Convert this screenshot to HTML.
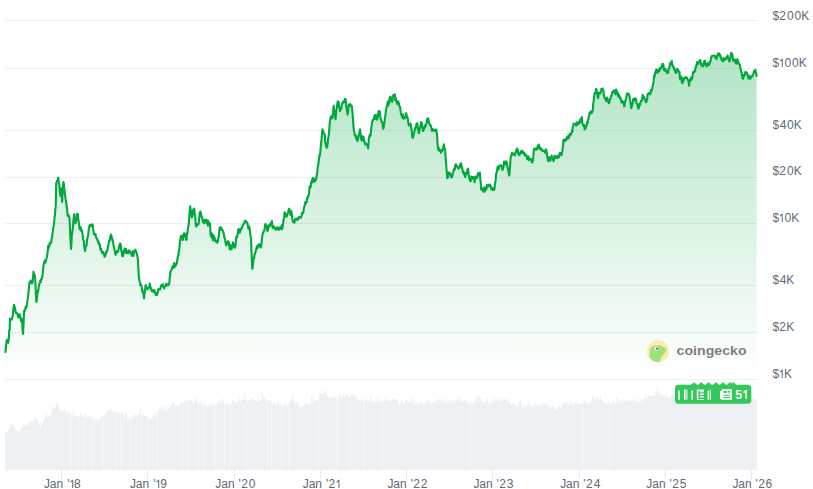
<!DOCTYPE html>
<html><head><meta charset="utf-8"><style>
html,body{margin:0;padding:0;background:#ffffff;width:813px;height:489px;overflow:hidden;font-family:"Liberation Sans",sans-serif;}
svg{display:block;}
</style></head><body>
<svg width="813" height="489" viewBox="0 0 813 489"><defs><linearGradient id="fg" x1="0" y1="0" x2="0" y2="1"><stop offset="0" stop-color="#00a83e" stop-opacity="0.3"/><stop offset="1" stop-color="#00a83e" stop-opacity="0"/></linearGradient></defs><rect x="5" y="20" width="752" height="1" fill="#eceff3"/><rect x="5" y="68" width="752" height="1" fill="#eceff3"/><rect x="5" y="130" width="752" height="1" fill="#eceff3"/><rect x="5" y="177" width="752" height="1" fill="#eceff3"/><rect x="5" y="223" width="752" height="1" fill="#eceff3"/><rect x="5" y="285" width="752" height="1" fill="#eceff3"/><rect x="5" y="332" width="752" height="1" fill="#eceff3"/><rect x="5" y="379" width="752" height="1" fill="#eceff3"/><clipPath id="vc"><path d="M5,470 L5.0,431.9 L6.0,431.9 L6.0,431.1 L7.0,431.1 L7.0,433.3 L8.0,433.3 L8.0,429.0 L9.0,429.0 L9.0,428.5 L10.0,428.5 L10.0,424.9 L11.0,424.9 L11.0,424.4 L12.0,424.4 L12.0,424.2 L13.0,424.2 L13.0,426.8 L14.0,426.8 L14.0,427.5 L15.0,427.5 L15.0,427.8 L16.0,427.8 L16.0,430.9 L17.0,430.9 L17.0,430.9 L18.0,430.9 L18.0,431.2 L19.0,431.2 L19.0,432.2 L20.0,432.2 L20.0,428.2 L21.0,428.2 L21.0,428.4 L22.0,428.4 L22.0,427.5 L23.0,427.5 L23.0,422.6 L24.0,422.6 L24.0,425.6 L25.0,425.6 L25.0,424.7 L26.0,424.7 L26.0,424.7 L27.0,424.7 L27.0,423.0 L28.0,423.0 L28.0,424.2 L29.0,424.2 L29.0,422.1 L30.0,422.1 L30.0,422.3 L31.0,422.3 L31.0,419.9 L32.0,419.9 L32.0,421.9 L33.0,421.9 L33.0,421.3 L34.0,421.3 L34.0,418.0 L35.0,418.0 L35.0,417.5 L36.0,417.5 L36.0,419.4 L37.0,419.4 L37.0,419.8 L38.0,419.8 L38.0,422.6 L39.0,422.6 L39.0,424.6 L40.0,424.6 L40.0,427.7 L41.0,427.7 L41.0,423.1 L42.0,423.1 L42.0,424.1 L43.0,424.1 L43.0,421.2 L44.0,421.2 L44.0,420.3 L45.0,420.3 L45.0,414.6 L46.0,414.6 L46.0,412.6 L47.0,412.6 L47.0,417.3 L48.0,417.3 L48.0,417.0 L49.0,417.0 L49.0,415.2 L50.0,415.2 L50.0,416.0 L51.0,416.0 L51.0,412.1 L52.0,412.1 L52.0,406.4 L53.0,406.4 L53.0,409.4 L54.0,409.4 L54.0,409.2 L55.0,409.2 L55.0,407.0 L56.0,407.0 L56.0,402.0 L57.0,402.0 L57.0,404.7 L58.0,404.7 L58.0,406.3 L59.0,406.3 L59.0,409.7 L60.0,409.7 L60.0,410.9 L61.0,410.9 L61.0,410.6 L62.0,410.6 L62.0,410.8 L63.0,410.8 L63.0,409.7 L64.0,409.7 L64.0,409.8 L65.0,409.8 L65.0,409.4 L66.0,409.4 L66.0,413.3 L67.0,413.3 L67.0,413.0 L68.0,413.0 L68.0,411.5 L69.0,411.5 L69.0,412.6 L70.0,412.6 L70.0,412.8 L71.0,412.8 L71.0,414.8 L72.0,414.8 L72.0,414.3 L73.0,414.3 L73.0,410.6 L74.0,410.6 L74.0,416.4 L75.0,416.4 L75.0,415.7 L76.0,415.7 L76.0,415.0 L77.0,415.0 L77.0,416.2 L78.0,416.2 L78.0,415.5 L79.0,415.5 L79.0,417.4 L80.0,417.4 L80.0,412.8 L81.0,412.8 L81.0,415.8 L82.0,415.8 L82.0,416.7 L83.0,416.7 L83.0,416.8 L84.0,416.8 L84.0,414.2 L85.0,414.2 L85.0,414.8 L86.0,414.8 L86.0,418.0 L87.0,418.0 L87.0,417.0 L88.0,417.0 L88.0,415.0 L89.0,415.0 L89.0,418.0 L90.0,418.0 L90.0,416.4 L91.0,416.4 L91.0,416.7 L92.0,416.7 L92.0,417.4 L93.0,417.4 L93.0,418.6 L94.0,418.6 L94.0,419.2 L95.0,419.2 L95.0,420.8 L96.0,420.8 L96.0,420.2 L97.0,420.2 L97.0,418.6 L98.0,418.6 L98.0,421.6 L99.0,421.6 L99.0,419.1 L100.0,419.1 L100.0,419.1 L101.0,419.1 L101.0,417.0 L102.0,417.0 L102.0,416.1 L103.0,416.1 L103.0,414.3 L104.0,414.3 L104.0,414.3 L105.0,414.3 L105.0,415.3 L106.0,415.3 L106.0,411.8 L107.0,411.8 L107.0,410.8 L108.0,410.8 L108.0,411.2 L109.0,411.2 L109.0,409.9 L110.0,409.9 L110.0,409.8 L111.0,409.8 L111.0,408.7 L112.0,408.7 L112.0,411.4 L113.0,411.4 L113.0,411.7 L114.0,411.7 L114.0,412.0 L115.0,412.0 L115.0,410.1 L116.0,410.1 L116.0,412.0 L117.0,412.0 L117.0,413.3 L118.0,413.3 L118.0,412.2 L119.0,412.2 L119.0,415.0 L120.0,415.0 L120.0,412.8 L121.0,412.8 L121.0,412.9 L122.0,412.9 L122.0,412.3 L123.0,412.3 L123.0,414.9 L124.0,414.9 L124.0,417.2 L125.0,417.2 L125.0,415.2 L126.0,415.2 L126.0,413.1 L127.0,413.1 L127.0,418.4 L128.0,418.4 L128.0,419.1 L129.0,419.1 L129.0,416.8 L130.0,416.8 L130.0,419.2 L131.0,419.2 L131.0,417.9 L132.0,417.9 L132.0,416.5 L133.0,416.5 L133.0,417.3 L134.0,417.3 L134.0,415.3 L135.0,415.3 L135.0,414.5 L136.0,414.5 L136.0,416.0 L137.0,416.0 L137.0,414.0 L138.0,414.0 L138.0,414.9 L139.0,414.9 L139.0,412.5 L140.0,412.5 L140.0,409.0 L141.0,409.0 L141.0,414.9 L142.0,414.9 L142.0,414.1 L143.0,414.1 L143.0,414.3 L144.0,414.3 L144.0,415.6 L145.0,415.6 L145.0,415.9 L146.0,415.9 L146.0,416.0 L147.0,416.0 L147.0,416.1 L148.0,416.1 L148.0,418.4 L149.0,418.4 L149.0,418.8 L150.0,418.8 L150.0,419.3 L151.0,419.3 L151.0,418.1 L152.0,418.1 L152.0,417.2 L153.0,417.2 L153.0,414.5 L154.0,414.5 L154.0,417.1 L155.0,417.1 L155.0,413.7 L156.0,413.7 L156.0,412.0 L157.0,412.0 L157.0,414.3 L158.0,414.3 L158.0,410.6 L159.0,410.6 L159.0,408.2 L160.0,408.2 L160.0,408.8 L161.0,408.8 L161.0,406.2 L162.0,406.2 L162.0,408.9 L163.0,408.9 L163.0,405.8 L164.0,405.8 L164.0,411.4 L165.0,411.4 L165.0,407.6 L166.0,407.6 L166.0,409.4 L167.0,409.4 L167.0,409.6 L168.0,409.6 L168.0,408.4 L169.0,408.4 L169.0,407.3 L170.0,407.3 L170.0,407.1 L171.0,407.1 L171.0,405.8 L172.0,405.8 L172.0,402.8 L173.0,402.8 L173.0,401.7 L174.0,401.7 L174.0,404.0 L175.0,404.0 L175.0,406.6 L176.0,406.6 L176.0,405.3 L177.0,405.3 L177.0,405.9 L178.0,405.9 L178.0,406.5 L179.0,406.5 L179.0,405.7 L180.0,405.7 L180.0,403.3 L181.0,403.3 L181.0,401.7 L182.0,401.7 L182.0,401.5 L183.0,401.5 L183.0,403.3 L184.0,403.3 L184.0,402.0 L185.0,402.0 L185.0,400.5 L186.0,400.5 L186.0,400.4 L187.0,400.4 L187.0,401.8 L188.0,401.8 L188.0,400.2 L189.0,400.2 L189.0,400.8 L190.0,400.8 L190.0,398.6 L191.0,398.6 L191.0,400.6 L192.0,400.6 L192.0,401.2 L193.0,401.2 L193.0,402.3 L194.0,402.3 L194.0,401.9 L195.0,401.9 L195.0,396.3 L196.0,396.3 L196.0,399.3 L197.0,399.3 L197.0,402.8 L198.0,402.8 L198.0,402.2 L199.0,402.2 L199.0,403.7 L200.0,403.7 L200.0,402.8 L201.0,402.8 L201.0,398.7 L202.0,398.7 L202.0,406.0 L203.0,406.0 L203.0,404.4 L204.0,404.4 L204.0,403.2 L205.0,403.2 L205.0,406.0 L206.0,406.0 L206.0,407.0 L207.0,407.0 L207.0,406.4 L208.0,406.4 L208.0,406.7 L209.0,406.7 L209.0,404.0 L210.0,404.0 L210.0,405.6 L211.0,405.6 L211.0,404.6 L212.0,404.6 L212.0,403.2 L213.0,403.2 L213.0,407.4 L214.0,407.4 L214.0,405.3 L215.0,405.3 L215.0,405.1 L216.0,405.1 L216.0,406.4 L217.0,406.4 L217.0,402.1 L218.0,402.1 L218.0,403.3 L219.0,403.3 L219.0,400.0 L220.0,400.0 L220.0,403.3 L221.0,403.3 L221.0,400.6 L222.0,400.6 L222.0,402.8 L223.0,402.8 L223.0,398.2 L224.0,398.2 L224.0,404.7 L225.0,404.7 L225.0,404.0 L226.0,404.0 L226.0,402.6 L227.0,402.6 L227.0,403.4 L228.0,403.4 L228.0,404.5 L229.0,404.5 L229.0,403.1 L230.0,403.1 L230.0,404.2 L231.0,404.2 L231.0,404.2 L232.0,404.2 L232.0,401.1 L233.0,401.1 L233.0,400.6 L234.0,400.6 L234.0,401.5 L235.0,401.5 L235.0,402.2 L236.0,402.2 L236.0,401.4 L237.0,401.4 L237.0,400.4 L238.0,400.4 L238.0,401.8 L239.0,401.8 L239.0,398.0 L240.0,398.0 L240.0,401.4 L241.0,401.4 L241.0,398.7 L242.0,398.7 L242.0,400.1 L243.0,400.1 L243.0,399.4 L244.0,399.4 L244.0,392.6 L245.0,392.6 L245.0,399.6 L246.0,399.6 L246.0,392.8 L247.0,392.8 L247.0,400.5 L248.0,400.5 L248.0,399.6 L249.0,399.6 L249.0,399.7 L250.0,399.7 L250.0,398.4 L251.0,398.4 L251.0,397.6 L252.0,397.6 L252.0,398.0 L253.0,398.0 L253.0,400.5 L254.0,400.5 L254.0,401.0 L255.0,401.0 L255.0,399.9 L256.0,399.9 L256.0,401.1 L257.0,401.1 L257.0,401.7 L258.0,401.7 L258.0,397.6 L259.0,397.6 L259.0,401.4 L260.0,401.4 L260.0,400.3 L261.0,400.3 L261.0,400.8 L262.0,400.8 L262.0,393.6 L263.0,393.6 L263.0,398.3 L264.0,398.3 L264.0,396.9 L265.0,396.9 L265.0,397.1 L266.0,397.1 L266.0,400.9 L267.0,400.9 L267.0,398.9 L268.0,398.9 L268.0,399.9 L269.0,399.9 L269.0,400.3 L270.0,400.3 L270.0,402.7 L271.0,402.7 L271.0,401.5 L272.0,401.5 L272.0,404.7 L273.0,404.7 L273.0,401.9 L274.0,401.9 L274.0,402.9 L275.0,402.9 L275.0,402.4 L276.0,402.4 L276.0,405.9 L277.0,405.9 L277.0,402.2 L278.0,402.2 L278.0,398.8 L279.0,398.8 L279.0,404.8 L280.0,404.8 L280.0,404.2 L281.0,404.2 L281.0,404.8 L282.0,404.8 L282.0,406.1 L283.0,406.1 L283.0,405.6 L284.0,405.6 L284.0,405.7 L285.0,405.7 L285.0,402.5 L286.0,402.5 L286.0,405.4 L287.0,405.4 L287.0,404.7 L288.0,404.7 L288.0,404.1 L289.0,404.1 L289.0,402.3 L290.0,402.3 L290.0,399.8 L291.0,399.8 L291.0,399.1 L292.0,399.1 L292.0,394.7 L293.0,394.7 L293.0,399.0 L294.0,399.0 L294.0,400.9 L295.0,400.9 L295.0,403.3 L296.0,403.3 L296.0,402.0 L297.0,402.0 L297.0,404.0 L298.0,404.0 L298.0,400.5 L299.0,400.5 L299.0,407.3 L300.0,407.3 L300.0,406.7 L301.0,406.7 L301.0,407.2 L302.0,407.2 L302.0,405.7 L303.0,405.7 L303.0,406.8 L304.0,406.8 L304.0,405.5 L305.0,405.5 L305.0,404.6 L306.0,404.6 L306.0,402.6 L307.0,402.6 L307.0,404.0 L308.0,404.0 L308.0,404.7 L309.0,404.7 L309.0,404.1 L310.0,404.1 L310.0,403.8 L311.0,403.8 L311.0,396.5 L312.0,396.5 L312.0,402.9 L313.0,402.9 L313.0,396.0 L314.0,396.0 L314.0,402.6 L315.0,402.6 L315.0,400.1 L316.0,400.1 L316.0,400.7 L317.0,400.7 L317.0,400.7 L318.0,400.7 L318.0,397.5 L319.0,397.5 L319.0,393.2 L320.0,393.2 L320.0,393.5 L321.0,393.5 L321.0,393.0 L322.0,393.0 L322.0,393.3 L323.0,393.3 L323.0,394.3 L324.0,394.3 L324.0,392.6 L325.0,392.6 L325.0,389.2 L326.0,389.2 L326.0,394.5 L327.0,394.5 L327.0,396.7 L328.0,396.7 L328.0,397.8 L329.0,397.8 L329.0,398.3 L330.0,398.3 L330.0,395.7 L331.0,395.7 L331.0,397.1 L332.0,397.1 L332.0,397.3 L333.0,397.3 L333.0,396.1 L334.0,396.1 L334.0,397.2 L335.0,397.2 L335.0,396.1 L336.0,396.1 L336.0,397.0 L337.0,397.0 L337.0,399.4 L338.0,399.4 L338.0,397.1 L339.0,397.1 L339.0,392.5 L340.0,392.5 L340.0,396.1 L341.0,396.1 L341.0,397.6 L342.0,397.6 L342.0,395.7 L343.0,395.7 L343.0,395.2 L344.0,395.2 L344.0,396.1 L345.0,396.1 L345.0,396.6 L346.0,396.6 L346.0,394.3 L347.0,394.3 L347.0,393.2 L348.0,393.2 L348.0,397.4 L349.0,397.4 L349.0,396.3 L350.0,396.3 L350.0,396.3 L351.0,396.3 L351.0,394.4 L352.0,394.4 L352.0,393.2 L353.0,393.2 L353.0,395.7 L354.0,395.7 L354.0,395.1 L355.0,395.1 L355.0,395.8 L356.0,395.8 L356.0,397.2 L357.0,397.2 L357.0,399.0 L358.0,399.0 L358.0,399.7 L359.0,399.7 L359.0,398.4 L360.0,398.4 L360.0,401.9 L361.0,401.9 L361.0,399.0 L362.0,399.0 L362.0,399.6 L363.0,399.6 L363.0,402.4 L364.0,402.4 L364.0,396.3 L365.0,396.3 L365.0,400.3 L366.0,400.3 L366.0,401.0 L367.0,401.0 L367.0,399.2 L368.0,399.2 L368.0,400.5 L369.0,400.5 L369.0,400.5 L370.0,400.5 L370.0,395.4 L371.0,395.4 L371.0,401.0 L372.0,401.0 L372.0,403.0 L373.0,403.0 L373.0,399.9 L374.0,399.9 L374.0,401.9 L375.0,401.9 L375.0,400.8 L376.0,400.8 L376.0,401.3 L377.0,401.3 L377.0,397.5 L378.0,397.5 L378.0,402.1 L379.0,402.1 L379.0,400.3 L380.0,400.3 L380.0,401.0 L381.0,401.0 L381.0,402.1 L382.0,402.1 L382.0,399.7 L383.0,399.7 L383.0,400.9 L384.0,400.9 L384.0,398.7 L385.0,398.7 L385.0,400.6 L386.0,400.6 L386.0,396.3 L387.0,396.3 L387.0,400.5 L388.0,400.5 L388.0,400.2 L389.0,400.2 L389.0,400.7 L390.0,400.7 L390.0,401.2 L391.0,401.2 L391.0,400.8 L392.0,400.8 L392.0,399.2 L393.0,399.2 L393.0,398.3 L394.0,398.3 L394.0,400.0 L395.0,400.0 L395.0,398.5 L396.0,398.5 L396.0,398.9 L397.0,398.9 L397.0,399.9 L398.0,399.9 L398.0,402.9 L399.0,402.9 L399.0,404.2 L400.0,404.2 L400.0,403.2 L401.0,403.2 L401.0,400.1 L402.0,400.1 L402.0,402.0 L403.0,402.0 L403.0,403.7 L404.0,403.7 L404.0,403.7 L405.0,403.7 L405.0,400.4 L406.0,400.4 L406.0,400.1 L407.0,400.1 L407.0,400.9 L408.0,400.9 L408.0,402.8 L409.0,402.8 L409.0,400.4 L410.0,400.4 L410.0,401.8 L411.0,401.8 L411.0,397.1 L412.0,397.1 L412.0,403.4 L413.0,403.4 L413.0,399.0 L414.0,399.0 L414.0,402.9 L415.0,402.9 L415.0,404.4 L416.0,404.4 L416.0,403.1 L417.0,403.1 L417.0,406.2 L418.0,406.2 L418.0,402.7 L419.0,402.7 L419.0,404.3 L420.0,404.3 L420.0,402.0 L421.0,402.0 L421.0,402.3 L422.0,402.3 L422.0,403.2 L423.0,403.2 L423.0,404.8 L424.0,404.8 L424.0,404.5 L425.0,404.5 L425.0,401.9 L426.0,401.9 L426.0,402.3 L427.0,402.3 L427.0,400.1 L428.0,400.1 L428.0,400.4 L429.0,400.4 L429.0,401.3 L430.0,401.3 L430.0,403.4 L431.0,403.4 L431.0,401.8 L432.0,401.8 L432.0,402.7 L433.0,402.7 L433.0,401.4 L434.0,401.4 L434.0,400.1 L435.0,400.1 L435.0,401.3 L436.0,401.3 L436.0,402.3 L437.0,402.3 L437.0,399.6 L438.0,399.6 L438.0,398.5 L439.0,398.5 L439.0,399.8 L440.0,399.8 L440.0,400.2 L441.0,400.2 L441.0,400.7 L442.0,400.7 L442.0,402.1 L443.0,402.1 L443.0,398.5 L444.0,398.5 L444.0,401.5 L445.0,401.5 L445.0,403.0 L446.0,403.0 L446.0,397.8 L447.0,397.8 L447.0,402.6 L448.0,402.6 L448.0,400.3 L449.0,400.3 L449.0,402.5 L450.0,402.5 L450.0,400.9 L451.0,400.9 L451.0,399.9 L452.0,399.9 L452.0,402.7 L453.0,402.7 L453.0,399.6 L454.0,399.6 L454.0,400.0 L455.0,400.0 L455.0,401.4 L456.0,401.4 L456.0,399.1 L457.0,399.1 L457.0,399.5 L458.0,399.5 L458.0,395.1 L459.0,395.1 L459.0,400.4 L460.0,400.4 L460.0,397.2 L461.0,397.2 L461.0,401.4 L462.0,401.4 L462.0,402.1 L463.0,402.1 L463.0,400.1 L464.0,400.1 L464.0,399.7 L465.0,399.7 L465.0,400.4 L466.0,400.4 L466.0,403.8 L467.0,403.8 L467.0,403.4 L468.0,403.4 L468.0,402.8 L469.0,402.8 L469.0,404.3 L470.0,404.3 L470.0,403.7 L471.0,403.7 L471.0,401.8 L472.0,401.8 L472.0,403.3 L473.0,403.3 L473.0,404.6 L474.0,404.6 L474.0,401.5 L475.0,401.5 L475.0,398.3 L476.0,398.3 L476.0,400.8 L477.0,400.8 L477.0,395.2 L478.0,395.2 L478.0,401.5 L479.0,401.5 L479.0,395.1 L480.0,395.1 L480.0,400.6 L481.0,400.6 L481.0,397.9 L482.0,397.9 L482.0,402.2 L483.0,402.2 L483.0,399.7 L484.0,399.7 L484.0,401.9 L485.0,401.9 L485.0,402.1 L486.0,402.1 L486.0,402.2 L487.0,402.2 L487.0,398.1 L488.0,398.1 L488.0,402.7 L489.0,402.7 L489.0,404.6 L490.0,404.6 L490.0,404.5 L491.0,404.5 L491.0,402.2 L492.0,402.2 L492.0,401.1 L493.0,401.1 L493.0,402.1 L494.0,402.1 L494.0,396.0 L495.0,396.0 L495.0,400.4 L496.0,400.4 L496.0,399.6 L497.0,399.6 L497.0,401.8 L498.0,401.8 L498.0,396.9 L499.0,396.9 L499.0,401.3 L500.0,401.3 L500.0,401.6 L501.0,401.6 L501.0,398.8 L502.0,398.8 L502.0,400.6 L503.0,400.6 L503.0,399.1 L504.0,399.1 L504.0,398.7 L505.0,398.7 L505.0,399.2 L506.0,399.2 L506.0,400.4 L507.0,400.4 L507.0,402.2 L508.0,402.2 L508.0,398.7 L509.0,398.7 L509.0,401.6 L510.0,401.6 L510.0,403.7 L511.0,403.7 L511.0,405.2 L512.0,405.2 L512.0,403.4 L513.0,403.4 L513.0,403.5 L514.0,403.5 L514.0,403.5 L515.0,403.5 L515.0,406.1 L516.0,406.1 L516.0,406.8 L517.0,406.8 L517.0,404.4 L518.0,404.4 L518.0,406.2 L519.0,406.2 L519.0,401.9 L520.0,401.9 L520.0,399.8 L521.0,399.8 L521.0,404.4 L522.0,404.4 L522.0,407.4 L523.0,407.4 L523.0,404.9 L524.0,404.9 L524.0,406.3 L525.0,406.3 L525.0,405.9 L526.0,405.9 L526.0,406.7 L527.0,406.7 L527.0,405.2 L528.0,405.2 L528.0,402.3 L529.0,402.3 L529.0,405.6 L530.0,405.6 L530.0,405.4 L531.0,405.4 L531.0,406.3 L532.0,406.3 L532.0,407.3 L533.0,407.3 L533.0,405.9 L534.0,405.9 L534.0,407.7 L535.0,407.7 L535.0,404.3 L536.0,404.3 L536.0,406.3 L537.0,406.3 L537.0,403.8 L538.0,403.8 L538.0,407.3 L539.0,407.3 L539.0,405.7 L540.0,405.7 L540.0,405.2 L541.0,405.2 L541.0,403.1 L542.0,403.1 L542.0,405.9 L543.0,405.9 L543.0,401.9 L544.0,401.9 L544.0,404.3 L545.0,404.3 L545.0,401.7 L546.0,401.7 L546.0,405.2 L547.0,405.2 L547.0,405.1 L548.0,405.1 L548.0,407.1 L549.0,407.1 L549.0,405.8 L550.0,405.8 L550.0,408.3 L551.0,408.3 L551.0,406.7 L552.0,406.7 L552.0,406.4 L553.0,406.4 L553.0,406.1 L554.0,406.1 L554.0,408.7 L555.0,408.7 L555.0,409.5 L556.0,409.5 L556.0,409.8 L557.0,409.8 L557.0,407.1 L558.0,407.1 L558.0,408.2 L559.0,408.2 L559.0,405.1 L560.0,405.1 L560.0,407.8 L561.0,407.8 L561.0,406.5 L562.0,406.5 L562.0,403.6 L563.0,403.6 L563.0,403.8 L564.0,403.8 L564.0,401.8 L565.0,401.8 L565.0,402.4 L566.0,402.4 L566.0,404.1 L567.0,404.1 L567.0,401.9 L568.0,401.9 L568.0,404.4 L569.0,404.4 L569.0,403.4 L570.0,403.4 L570.0,400.2 L571.0,400.2 L571.0,404.7 L572.0,404.7 L572.0,402.4 L573.0,402.4 L573.0,404.4 L574.0,404.4 L574.0,402.6 L575.0,402.6 L575.0,402.4 L576.0,402.4 L576.0,401.3 L577.0,401.3 L577.0,404.4 L578.0,404.4 L578.0,403.2 L579.0,403.2 L579.0,403.5 L580.0,403.5 L580.0,404.0 L581.0,404.0 L581.0,404.2 L582.0,404.2 L582.0,403.1 L583.0,403.1 L583.0,401.0 L584.0,401.0 L584.0,401.5 L585.0,401.5 L585.0,401.0 L586.0,401.0 L586.0,402.3 L587.0,402.3 L587.0,402.9 L588.0,402.9 L588.0,405.4 L589.0,405.4 L589.0,402.6 L590.0,402.6 L590.0,403.3 L591.0,403.3 L591.0,401.2 L592.0,401.2 L592.0,396.4 L593.0,396.4 L593.0,397.0 L594.0,397.0 L594.0,398.7 L595.0,398.7 L595.0,399.6 L596.0,399.6 L596.0,398.1 L597.0,398.1 L597.0,397.7 L598.0,397.7 L598.0,398.0 L599.0,398.0 L599.0,399.4 L600.0,399.4 L600.0,395.1 L601.0,395.1 L601.0,399.9 L602.0,399.9 L602.0,401.0 L603.0,401.0 L603.0,403.4 L604.0,403.4 L604.0,402.4 L605.0,402.4 L605.0,402.0 L606.0,402.0 L606.0,403.3 L607.0,403.3 L607.0,404.1 L608.0,404.1 L608.0,401.3 L609.0,401.3 L609.0,404.4 L610.0,404.4 L610.0,402.8 L611.0,402.8 L611.0,404.2 L612.0,404.2 L612.0,401.2 L613.0,401.2 L613.0,401.6 L614.0,401.6 L614.0,402.7 L615.0,402.7 L615.0,403.3 L616.0,403.3 L616.0,397.8 L617.0,397.8 L617.0,402.0 L618.0,402.0 L618.0,399.3 L619.0,399.3 L619.0,402.0 L620.0,402.0 L620.0,400.0 L621.0,400.0 L621.0,401.5 L622.0,401.5 L622.0,399.3 L623.0,399.3 L623.0,402.3 L624.0,402.3 L624.0,399.7 L625.0,399.7 L625.0,401.8 L626.0,401.8 L626.0,399.2 L627.0,399.2 L627.0,400.8 L628.0,400.8 L628.0,400.0 L629.0,400.0 L629.0,400.4 L630.0,400.4 L630.0,401.4 L631.0,401.4 L631.0,399.8 L632.0,399.8 L632.0,398.3 L633.0,398.3 L633.0,399.9 L634.0,399.9 L634.0,401.3 L635.0,401.3 L635.0,401.7 L636.0,401.7 L636.0,398.2 L637.0,398.2 L637.0,401.8 L638.0,401.8 L638.0,402.1 L639.0,402.1 L639.0,402.2 L640.0,402.2 L640.0,399.1 L641.0,399.1 L641.0,401.9 L642.0,401.9 L642.0,400.6 L643.0,400.6 L643.0,398.7 L644.0,398.7 L644.0,399.1 L645.0,399.1 L645.0,396.9 L646.0,396.9 L646.0,393.3 L647.0,393.3 L647.0,398.4 L648.0,398.4 L648.0,395.9 L649.0,395.9 L649.0,395.0 L650.0,395.0 L650.0,397.3 L651.0,397.3 L651.0,395.5 L652.0,395.5 L652.0,395.6 L653.0,395.6 L653.0,395.0 L654.0,395.0 L654.0,395.1 L655.0,395.1 L655.0,391.6 L656.0,391.6 L656.0,392.7 L657.0,392.7 L657.0,386.8 L658.0,386.8 L658.0,392.8 L659.0,392.8 L659.0,392.4 L660.0,392.4 L660.0,395.4 L661.0,395.4 L661.0,395.3 L662.0,395.3 L662.0,393.9 L663.0,393.9 L663.0,395.6 L664.0,395.6 L664.0,396.0 L665.0,396.0 L665.0,396.5 L666.0,396.5 L666.0,392.9 L667.0,392.9 L667.0,397.8 L668.0,397.8 L668.0,397.4 L669.0,397.4 L669.0,399.0 L670.0,399.0 L670.0,398.6 L671.0,398.6 L671.0,395.3 L672.0,395.3 L672.0,394.7 L673.0,394.7 L673.0,394.1 L674.0,394.1 L674.0,397.7 L675.0,397.7 L675.0,395.3 L676.0,395.3 L676.0,395.3 L677.0,395.3 L677.0,395.5 L678.0,395.5 L678.0,397.5 L679.0,397.5 L679.0,394.1 L680.0,394.1 L680.0,397.0 L681.0,397.0 L681.0,396.7 L682.0,396.7 L682.0,395.8 L683.0,395.8 L683.0,395.4 L684.0,395.4 L684.0,396.9 L685.0,396.9 L685.0,398.1 L686.0,398.1 L686.0,395.8 L687.0,395.8 L687.0,397.6 L688.0,397.6 L688.0,397.2 L689.0,397.2 L689.0,398.3 L690.0,398.3 L690.0,396.2 L691.0,396.2 L691.0,395.1 L692.0,395.1 L692.0,397.9 L693.0,397.9 L693.0,392.0 L694.0,392.0 L694.0,396.7 L695.0,396.7 L695.0,398.4 L696.0,398.4 L696.0,397.0 L697.0,397.0 L697.0,397.4 L698.0,397.4 L698.0,396.3 L699.0,396.3 L699.0,397.4 L700.0,397.4 L700.0,396.1 L701.0,396.1 L701.0,396.6 L702.0,396.6 L702.0,398.7 L703.0,398.7 L703.0,396.2 L704.0,396.2 L704.0,398.4 L705.0,398.4 L705.0,397.9 L706.0,397.9 L706.0,392.0 L707.0,392.0 L707.0,394.5 L708.0,394.5 L708.0,396.2 L709.0,396.2 L709.0,392.4 L710.0,392.4 L710.0,398.2 L711.0,398.2 L711.0,399.2 L712.0,399.2 L712.0,399.1 L713.0,399.1 L713.0,395.2 L714.0,395.2 L714.0,396.3 L715.0,396.3 L715.0,399.0 L716.0,399.0 L716.0,395.9 L717.0,395.9 L717.0,398.6 L718.0,398.6 L718.0,399.5 L719.0,399.5 L719.0,391.9 L720.0,391.9 L720.0,395.8 L721.0,395.8 L721.0,398.2 L722.0,398.2 L722.0,396.4 L723.0,396.4 L723.0,398.2 L724.0,398.2 L724.0,399.7 L725.0,399.7 L725.0,399.8 L726.0,399.8 L726.0,397.4 L727.0,397.4 L727.0,396.8 L728.0,396.8 L728.0,399.9 L729.0,399.9 L729.0,396.7 L730.0,396.7 L730.0,396.6 L731.0,396.6 L731.0,399.0 L732.0,399.0 L732.0,394.1 L733.0,394.1 L733.0,396.2 L734.0,396.2 L734.0,399.2 L735.0,399.2 L735.0,397.9 L736.0,397.9 L736.0,398.5 L737.0,398.5 L737.0,397.6 L738.0,397.6 L738.0,399.5 L739.0,399.5 L739.0,398.3 L740.0,398.3 L740.0,396.8 L741.0,396.8 L741.0,398.9 L742.0,398.9 L742.0,395.3 L743.0,395.3 L743.0,398.2 L744.0,398.2 L744.0,395.3 L745.0,395.3 L745.0,398.8 L746.0,398.8 L746.0,399.0 L747.0,399.0 L747.0,400.0 L748.0,400.0 L748.0,399.9 L749.0,399.9 L749.0,397.4 L750.0,397.4 L750.0,397.2 L751.0,397.2 L751.0,399.3 L752.0,399.3 L752.0,399.5 L753.0,399.5 L753.0,398.9 L754.0,398.9 L754.0,399.2 L755.0,399.2 L755.0,398.6 L756.0,398.6 L756.0,399.6 L757.0,399.6 L757,470 Z"/></clipPath><path d="M5,470 L5.0,431.9 L6.0,431.9 L6.0,431.1 L7.0,431.1 L7.0,433.3 L8.0,433.3 L8.0,429.0 L9.0,429.0 L9.0,428.5 L10.0,428.5 L10.0,424.9 L11.0,424.9 L11.0,424.4 L12.0,424.4 L12.0,424.2 L13.0,424.2 L13.0,426.8 L14.0,426.8 L14.0,427.5 L15.0,427.5 L15.0,427.8 L16.0,427.8 L16.0,430.9 L17.0,430.9 L17.0,430.9 L18.0,430.9 L18.0,431.2 L19.0,431.2 L19.0,432.2 L20.0,432.2 L20.0,428.2 L21.0,428.2 L21.0,428.4 L22.0,428.4 L22.0,427.5 L23.0,427.5 L23.0,422.6 L24.0,422.6 L24.0,425.6 L25.0,425.6 L25.0,424.7 L26.0,424.7 L26.0,424.7 L27.0,424.7 L27.0,423.0 L28.0,423.0 L28.0,424.2 L29.0,424.2 L29.0,422.1 L30.0,422.1 L30.0,422.3 L31.0,422.3 L31.0,419.9 L32.0,419.9 L32.0,421.9 L33.0,421.9 L33.0,421.3 L34.0,421.3 L34.0,418.0 L35.0,418.0 L35.0,417.5 L36.0,417.5 L36.0,419.4 L37.0,419.4 L37.0,419.8 L38.0,419.8 L38.0,422.6 L39.0,422.6 L39.0,424.6 L40.0,424.6 L40.0,427.7 L41.0,427.7 L41.0,423.1 L42.0,423.1 L42.0,424.1 L43.0,424.1 L43.0,421.2 L44.0,421.2 L44.0,420.3 L45.0,420.3 L45.0,414.6 L46.0,414.6 L46.0,412.6 L47.0,412.6 L47.0,417.3 L48.0,417.3 L48.0,417.0 L49.0,417.0 L49.0,415.2 L50.0,415.2 L50.0,416.0 L51.0,416.0 L51.0,412.1 L52.0,412.1 L52.0,406.4 L53.0,406.4 L53.0,409.4 L54.0,409.4 L54.0,409.2 L55.0,409.2 L55.0,407.0 L56.0,407.0 L56.0,402.0 L57.0,402.0 L57.0,404.7 L58.0,404.7 L58.0,406.3 L59.0,406.3 L59.0,409.7 L60.0,409.7 L60.0,410.9 L61.0,410.9 L61.0,410.6 L62.0,410.6 L62.0,410.8 L63.0,410.8 L63.0,409.7 L64.0,409.7 L64.0,409.8 L65.0,409.8 L65.0,409.4 L66.0,409.4 L66.0,413.3 L67.0,413.3 L67.0,413.0 L68.0,413.0 L68.0,411.5 L69.0,411.5 L69.0,412.6 L70.0,412.6 L70.0,412.8 L71.0,412.8 L71.0,414.8 L72.0,414.8 L72.0,414.3 L73.0,414.3 L73.0,410.6 L74.0,410.6 L74.0,416.4 L75.0,416.4 L75.0,415.7 L76.0,415.7 L76.0,415.0 L77.0,415.0 L77.0,416.2 L78.0,416.2 L78.0,415.5 L79.0,415.5 L79.0,417.4 L80.0,417.4 L80.0,412.8 L81.0,412.8 L81.0,415.8 L82.0,415.8 L82.0,416.7 L83.0,416.7 L83.0,416.8 L84.0,416.8 L84.0,414.2 L85.0,414.2 L85.0,414.8 L86.0,414.8 L86.0,418.0 L87.0,418.0 L87.0,417.0 L88.0,417.0 L88.0,415.0 L89.0,415.0 L89.0,418.0 L90.0,418.0 L90.0,416.4 L91.0,416.4 L91.0,416.7 L92.0,416.7 L92.0,417.4 L93.0,417.4 L93.0,418.6 L94.0,418.6 L94.0,419.2 L95.0,419.2 L95.0,420.8 L96.0,420.8 L96.0,420.2 L97.0,420.2 L97.0,418.6 L98.0,418.6 L98.0,421.6 L99.0,421.6 L99.0,419.1 L100.0,419.1 L100.0,419.1 L101.0,419.1 L101.0,417.0 L102.0,417.0 L102.0,416.1 L103.0,416.1 L103.0,414.3 L104.0,414.3 L104.0,414.3 L105.0,414.3 L105.0,415.3 L106.0,415.3 L106.0,411.8 L107.0,411.8 L107.0,410.8 L108.0,410.8 L108.0,411.2 L109.0,411.2 L109.0,409.9 L110.0,409.9 L110.0,409.8 L111.0,409.8 L111.0,408.7 L112.0,408.7 L112.0,411.4 L113.0,411.4 L113.0,411.7 L114.0,411.7 L114.0,412.0 L115.0,412.0 L115.0,410.1 L116.0,410.1 L116.0,412.0 L117.0,412.0 L117.0,413.3 L118.0,413.3 L118.0,412.2 L119.0,412.2 L119.0,415.0 L120.0,415.0 L120.0,412.8 L121.0,412.8 L121.0,412.9 L122.0,412.9 L122.0,412.3 L123.0,412.3 L123.0,414.9 L124.0,414.9 L124.0,417.2 L125.0,417.2 L125.0,415.2 L126.0,415.2 L126.0,413.1 L127.0,413.1 L127.0,418.4 L128.0,418.4 L128.0,419.1 L129.0,419.1 L129.0,416.8 L130.0,416.8 L130.0,419.2 L131.0,419.2 L131.0,417.9 L132.0,417.9 L132.0,416.5 L133.0,416.5 L133.0,417.3 L134.0,417.3 L134.0,415.3 L135.0,415.3 L135.0,414.5 L136.0,414.5 L136.0,416.0 L137.0,416.0 L137.0,414.0 L138.0,414.0 L138.0,414.9 L139.0,414.9 L139.0,412.5 L140.0,412.5 L140.0,409.0 L141.0,409.0 L141.0,414.9 L142.0,414.9 L142.0,414.1 L143.0,414.1 L143.0,414.3 L144.0,414.3 L144.0,415.6 L145.0,415.6 L145.0,415.9 L146.0,415.9 L146.0,416.0 L147.0,416.0 L147.0,416.1 L148.0,416.1 L148.0,418.4 L149.0,418.4 L149.0,418.8 L150.0,418.8 L150.0,419.3 L151.0,419.3 L151.0,418.1 L152.0,418.1 L152.0,417.2 L153.0,417.2 L153.0,414.5 L154.0,414.5 L154.0,417.1 L155.0,417.1 L155.0,413.7 L156.0,413.7 L156.0,412.0 L157.0,412.0 L157.0,414.3 L158.0,414.3 L158.0,410.6 L159.0,410.6 L159.0,408.2 L160.0,408.2 L160.0,408.8 L161.0,408.8 L161.0,406.2 L162.0,406.2 L162.0,408.9 L163.0,408.9 L163.0,405.8 L164.0,405.8 L164.0,411.4 L165.0,411.4 L165.0,407.6 L166.0,407.6 L166.0,409.4 L167.0,409.4 L167.0,409.6 L168.0,409.6 L168.0,408.4 L169.0,408.4 L169.0,407.3 L170.0,407.3 L170.0,407.1 L171.0,407.1 L171.0,405.8 L172.0,405.8 L172.0,402.8 L173.0,402.8 L173.0,401.7 L174.0,401.7 L174.0,404.0 L175.0,404.0 L175.0,406.6 L176.0,406.6 L176.0,405.3 L177.0,405.3 L177.0,405.9 L178.0,405.9 L178.0,406.5 L179.0,406.5 L179.0,405.7 L180.0,405.7 L180.0,403.3 L181.0,403.3 L181.0,401.7 L182.0,401.7 L182.0,401.5 L183.0,401.5 L183.0,403.3 L184.0,403.3 L184.0,402.0 L185.0,402.0 L185.0,400.5 L186.0,400.5 L186.0,400.4 L187.0,400.4 L187.0,401.8 L188.0,401.8 L188.0,400.2 L189.0,400.2 L189.0,400.8 L190.0,400.8 L190.0,398.6 L191.0,398.6 L191.0,400.6 L192.0,400.6 L192.0,401.2 L193.0,401.2 L193.0,402.3 L194.0,402.3 L194.0,401.9 L195.0,401.9 L195.0,396.3 L196.0,396.3 L196.0,399.3 L197.0,399.3 L197.0,402.8 L198.0,402.8 L198.0,402.2 L199.0,402.2 L199.0,403.7 L200.0,403.7 L200.0,402.8 L201.0,402.8 L201.0,398.7 L202.0,398.7 L202.0,406.0 L203.0,406.0 L203.0,404.4 L204.0,404.4 L204.0,403.2 L205.0,403.2 L205.0,406.0 L206.0,406.0 L206.0,407.0 L207.0,407.0 L207.0,406.4 L208.0,406.4 L208.0,406.7 L209.0,406.7 L209.0,404.0 L210.0,404.0 L210.0,405.6 L211.0,405.6 L211.0,404.6 L212.0,404.6 L212.0,403.2 L213.0,403.2 L213.0,407.4 L214.0,407.4 L214.0,405.3 L215.0,405.3 L215.0,405.1 L216.0,405.1 L216.0,406.4 L217.0,406.4 L217.0,402.1 L218.0,402.1 L218.0,403.3 L219.0,403.3 L219.0,400.0 L220.0,400.0 L220.0,403.3 L221.0,403.3 L221.0,400.6 L222.0,400.6 L222.0,402.8 L223.0,402.8 L223.0,398.2 L224.0,398.2 L224.0,404.7 L225.0,404.7 L225.0,404.0 L226.0,404.0 L226.0,402.6 L227.0,402.6 L227.0,403.4 L228.0,403.4 L228.0,404.5 L229.0,404.5 L229.0,403.1 L230.0,403.1 L230.0,404.2 L231.0,404.2 L231.0,404.2 L232.0,404.2 L232.0,401.1 L233.0,401.1 L233.0,400.6 L234.0,400.6 L234.0,401.5 L235.0,401.5 L235.0,402.2 L236.0,402.2 L236.0,401.4 L237.0,401.4 L237.0,400.4 L238.0,400.4 L238.0,401.8 L239.0,401.8 L239.0,398.0 L240.0,398.0 L240.0,401.4 L241.0,401.4 L241.0,398.7 L242.0,398.7 L242.0,400.1 L243.0,400.1 L243.0,399.4 L244.0,399.4 L244.0,392.6 L245.0,392.6 L245.0,399.6 L246.0,399.6 L246.0,392.8 L247.0,392.8 L247.0,400.5 L248.0,400.5 L248.0,399.6 L249.0,399.6 L249.0,399.7 L250.0,399.7 L250.0,398.4 L251.0,398.4 L251.0,397.6 L252.0,397.6 L252.0,398.0 L253.0,398.0 L253.0,400.5 L254.0,400.5 L254.0,401.0 L255.0,401.0 L255.0,399.9 L256.0,399.9 L256.0,401.1 L257.0,401.1 L257.0,401.7 L258.0,401.7 L258.0,397.6 L259.0,397.6 L259.0,401.4 L260.0,401.4 L260.0,400.3 L261.0,400.3 L261.0,400.8 L262.0,400.8 L262.0,393.6 L263.0,393.6 L263.0,398.3 L264.0,398.3 L264.0,396.9 L265.0,396.9 L265.0,397.1 L266.0,397.1 L266.0,400.9 L267.0,400.9 L267.0,398.9 L268.0,398.9 L268.0,399.9 L269.0,399.9 L269.0,400.3 L270.0,400.3 L270.0,402.7 L271.0,402.7 L271.0,401.5 L272.0,401.5 L272.0,404.7 L273.0,404.7 L273.0,401.9 L274.0,401.9 L274.0,402.9 L275.0,402.9 L275.0,402.4 L276.0,402.4 L276.0,405.9 L277.0,405.9 L277.0,402.2 L278.0,402.2 L278.0,398.8 L279.0,398.8 L279.0,404.8 L280.0,404.8 L280.0,404.2 L281.0,404.2 L281.0,404.8 L282.0,404.8 L282.0,406.1 L283.0,406.1 L283.0,405.6 L284.0,405.6 L284.0,405.7 L285.0,405.7 L285.0,402.5 L286.0,402.5 L286.0,405.4 L287.0,405.4 L287.0,404.7 L288.0,404.7 L288.0,404.1 L289.0,404.1 L289.0,402.3 L290.0,402.3 L290.0,399.8 L291.0,399.8 L291.0,399.1 L292.0,399.1 L292.0,394.7 L293.0,394.7 L293.0,399.0 L294.0,399.0 L294.0,400.9 L295.0,400.9 L295.0,403.3 L296.0,403.3 L296.0,402.0 L297.0,402.0 L297.0,404.0 L298.0,404.0 L298.0,400.5 L299.0,400.5 L299.0,407.3 L300.0,407.3 L300.0,406.7 L301.0,406.7 L301.0,407.2 L302.0,407.2 L302.0,405.7 L303.0,405.7 L303.0,406.8 L304.0,406.8 L304.0,405.5 L305.0,405.5 L305.0,404.6 L306.0,404.6 L306.0,402.6 L307.0,402.6 L307.0,404.0 L308.0,404.0 L308.0,404.7 L309.0,404.7 L309.0,404.1 L310.0,404.1 L310.0,403.8 L311.0,403.8 L311.0,396.5 L312.0,396.5 L312.0,402.9 L313.0,402.9 L313.0,396.0 L314.0,396.0 L314.0,402.6 L315.0,402.6 L315.0,400.1 L316.0,400.1 L316.0,400.7 L317.0,400.7 L317.0,400.7 L318.0,400.7 L318.0,397.5 L319.0,397.5 L319.0,393.2 L320.0,393.2 L320.0,393.5 L321.0,393.5 L321.0,393.0 L322.0,393.0 L322.0,393.3 L323.0,393.3 L323.0,394.3 L324.0,394.3 L324.0,392.6 L325.0,392.6 L325.0,389.2 L326.0,389.2 L326.0,394.5 L327.0,394.5 L327.0,396.7 L328.0,396.7 L328.0,397.8 L329.0,397.8 L329.0,398.3 L330.0,398.3 L330.0,395.7 L331.0,395.7 L331.0,397.1 L332.0,397.1 L332.0,397.3 L333.0,397.3 L333.0,396.1 L334.0,396.1 L334.0,397.2 L335.0,397.2 L335.0,396.1 L336.0,396.1 L336.0,397.0 L337.0,397.0 L337.0,399.4 L338.0,399.4 L338.0,397.1 L339.0,397.1 L339.0,392.5 L340.0,392.5 L340.0,396.1 L341.0,396.1 L341.0,397.6 L342.0,397.6 L342.0,395.7 L343.0,395.7 L343.0,395.2 L344.0,395.2 L344.0,396.1 L345.0,396.1 L345.0,396.6 L346.0,396.6 L346.0,394.3 L347.0,394.3 L347.0,393.2 L348.0,393.2 L348.0,397.4 L349.0,397.4 L349.0,396.3 L350.0,396.3 L350.0,396.3 L351.0,396.3 L351.0,394.4 L352.0,394.4 L352.0,393.2 L353.0,393.2 L353.0,395.7 L354.0,395.7 L354.0,395.1 L355.0,395.1 L355.0,395.8 L356.0,395.8 L356.0,397.2 L357.0,397.2 L357.0,399.0 L358.0,399.0 L358.0,399.7 L359.0,399.7 L359.0,398.4 L360.0,398.4 L360.0,401.9 L361.0,401.9 L361.0,399.0 L362.0,399.0 L362.0,399.6 L363.0,399.6 L363.0,402.4 L364.0,402.4 L364.0,396.3 L365.0,396.3 L365.0,400.3 L366.0,400.3 L366.0,401.0 L367.0,401.0 L367.0,399.2 L368.0,399.2 L368.0,400.5 L369.0,400.5 L369.0,400.5 L370.0,400.5 L370.0,395.4 L371.0,395.4 L371.0,401.0 L372.0,401.0 L372.0,403.0 L373.0,403.0 L373.0,399.9 L374.0,399.9 L374.0,401.9 L375.0,401.9 L375.0,400.8 L376.0,400.8 L376.0,401.3 L377.0,401.3 L377.0,397.5 L378.0,397.5 L378.0,402.1 L379.0,402.1 L379.0,400.3 L380.0,400.3 L380.0,401.0 L381.0,401.0 L381.0,402.1 L382.0,402.1 L382.0,399.7 L383.0,399.7 L383.0,400.9 L384.0,400.9 L384.0,398.7 L385.0,398.7 L385.0,400.6 L386.0,400.6 L386.0,396.3 L387.0,396.3 L387.0,400.5 L388.0,400.5 L388.0,400.2 L389.0,400.2 L389.0,400.7 L390.0,400.7 L390.0,401.2 L391.0,401.2 L391.0,400.8 L392.0,400.8 L392.0,399.2 L393.0,399.2 L393.0,398.3 L394.0,398.3 L394.0,400.0 L395.0,400.0 L395.0,398.5 L396.0,398.5 L396.0,398.9 L397.0,398.9 L397.0,399.9 L398.0,399.9 L398.0,402.9 L399.0,402.9 L399.0,404.2 L400.0,404.2 L400.0,403.2 L401.0,403.2 L401.0,400.1 L402.0,400.1 L402.0,402.0 L403.0,402.0 L403.0,403.7 L404.0,403.7 L404.0,403.7 L405.0,403.7 L405.0,400.4 L406.0,400.4 L406.0,400.1 L407.0,400.1 L407.0,400.9 L408.0,400.9 L408.0,402.8 L409.0,402.8 L409.0,400.4 L410.0,400.4 L410.0,401.8 L411.0,401.8 L411.0,397.1 L412.0,397.1 L412.0,403.4 L413.0,403.4 L413.0,399.0 L414.0,399.0 L414.0,402.9 L415.0,402.9 L415.0,404.4 L416.0,404.4 L416.0,403.1 L417.0,403.1 L417.0,406.2 L418.0,406.2 L418.0,402.7 L419.0,402.7 L419.0,404.3 L420.0,404.3 L420.0,402.0 L421.0,402.0 L421.0,402.3 L422.0,402.3 L422.0,403.2 L423.0,403.2 L423.0,404.8 L424.0,404.8 L424.0,404.5 L425.0,404.5 L425.0,401.9 L426.0,401.9 L426.0,402.3 L427.0,402.3 L427.0,400.1 L428.0,400.1 L428.0,400.4 L429.0,400.4 L429.0,401.3 L430.0,401.3 L430.0,403.4 L431.0,403.4 L431.0,401.8 L432.0,401.8 L432.0,402.7 L433.0,402.7 L433.0,401.4 L434.0,401.4 L434.0,400.1 L435.0,400.1 L435.0,401.3 L436.0,401.3 L436.0,402.3 L437.0,402.3 L437.0,399.6 L438.0,399.6 L438.0,398.5 L439.0,398.5 L439.0,399.8 L440.0,399.8 L440.0,400.2 L441.0,400.2 L441.0,400.7 L442.0,400.7 L442.0,402.1 L443.0,402.1 L443.0,398.5 L444.0,398.5 L444.0,401.5 L445.0,401.5 L445.0,403.0 L446.0,403.0 L446.0,397.8 L447.0,397.8 L447.0,402.6 L448.0,402.6 L448.0,400.3 L449.0,400.3 L449.0,402.5 L450.0,402.5 L450.0,400.9 L451.0,400.9 L451.0,399.9 L452.0,399.9 L452.0,402.7 L453.0,402.7 L453.0,399.6 L454.0,399.6 L454.0,400.0 L455.0,400.0 L455.0,401.4 L456.0,401.4 L456.0,399.1 L457.0,399.1 L457.0,399.5 L458.0,399.5 L458.0,395.1 L459.0,395.1 L459.0,400.4 L460.0,400.4 L460.0,397.2 L461.0,397.2 L461.0,401.4 L462.0,401.4 L462.0,402.1 L463.0,402.1 L463.0,400.1 L464.0,400.1 L464.0,399.7 L465.0,399.7 L465.0,400.4 L466.0,400.4 L466.0,403.8 L467.0,403.8 L467.0,403.4 L468.0,403.4 L468.0,402.8 L469.0,402.8 L469.0,404.3 L470.0,404.3 L470.0,403.7 L471.0,403.7 L471.0,401.8 L472.0,401.8 L472.0,403.3 L473.0,403.3 L473.0,404.6 L474.0,404.6 L474.0,401.5 L475.0,401.5 L475.0,398.3 L476.0,398.3 L476.0,400.8 L477.0,400.8 L477.0,395.2 L478.0,395.2 L478.0,401.5 L479.0,401.5 L479.0,395.1 L480.0,395.1 L480.0,400.6 L481.0,400.6 L481.0,397.9 L482.0,397.9 L482.0,402.2 L483.0,402.2 L483.0,399.7 L484.0,399.7 L484.0,401.9 L485.0,401.9 L485.0,402.1 L486.0,402.1 L486.0,402.2 L487.0,402.2 L487.0,398.1 L488.0,398.1 L488.0,402.7 L489.0,402.7 L489.0,404.6 L490.0,404.6 L490.0,404.5 L491.0,404.5 L491.0,402.2 L492.0,402.2 L492.0,401.1 L493.0,401.1 L493.0,402.1 L494.0,402.1 L494.0,396.0 L495.0,396.0 L495.0,400.4 L496.0,400.4 L496.0,399.6 L497.0,399.6 L497.0,401.8 L498.0,401.8 L498.0,396.9 L499.0,396.9 L499.0,401.3 L500.0,401.3 L500.0,401.6 L501.0,401.6 L501.0,398.8 L502.0,398.8 L502.0,400.6 L503.0,400.6 L503.0,399.1 L504.0,399.1 L504.0,398.7 L505.0,398.7 L505.0,399.2 L506.0,399.2 L506.0,400.4 L507.0,400.4 L507.0,402.2 L508.0,402.2 L508.0,398.7 L509.0,398.7 L509.0,401.6 L510.0,401.6 L510.0,403.7 L511.0,403.7 L511.0,405.2 L512.0,405.2 L512.0,403.4 L513.0,403.4 L513.0,403.5 L514.0,403.5 L514.0,403.5 L515.0,403.5 L515.0,406.1 L516.0,406.1 L516.0,406.8 L517.0,406.8 L517.0,404.4 L518.0,404.4 L518.0,406.2 L519.0,406.2 L519.0,401.9 L520.0,401.9 L520.0,399.8 L521.0,399.8 L521.0,404.4 L522.0,404.4 L522.0,407.4 L523.0,407.4 L523.0,404.9 L524.0,404.9 L524.0,406.3 L525.0,406.3 L525.0,405.9 L526.0,405.9 L526.0,406.7 L527.0,406.7 L527.0,405.2 L528.0,405.2 L528.0,402.3 L529.0,402.3 L529.0,405.6 L530.0,405.6 L530.0,405.4 L531.0,405.4 L531.0,406.3 L532.0,406.3 L532.0,407.3 L533.0,407.3 L533.0,405.9 L534.0,405.9 L534.0,407.7 L535.0,407.7 L535.0,404.3 L536.0,404.3 L536.0,406.3 L537.0,406.3 L537.0,403.8 L538.0,403.8 L538.0,407.3 L539.0,407.3 L539.0,405.7 L540.0,405.7 L540.0,405.2 L541.0,405.2 L541.0,403.1 L542.0,403.1 L542.0,405.9 L543.0,405.9 L543.0,401.9 L544.0,401.9 L544.0,404.3 L545.0,404.3 L545.0,401.7 L546.0,401.7 L546.0,405.2 L547.0,405.2 L547.0,405.1 L548.0,405.1 L548.0,407.1 L549.0,407.1 L549.0,405.8 L550.0,405.8 L550.0,408.3 L551.0,408.3 L551.0,406.7 L552.0,406.7 L552.0,406.4 L553.0,406.4 L553.0,406.1 L554.0,406.1 L554.0,408.7 L555.0,408.7 L555.0,409.5 L556.0,409.5 L556.0,409.8 L557.0,409.8 L557.0,407.1 L558.0,407.1 L558.0,408.2 L559.0,408.2 L559.0,405.1 L560.0,405.1 L560.0,407.8 L561.0,407.8 L561.0,406.5 L562.0,406.5 L562.0,403.6 L563.0,403.6 L563.0,403.8 L564.0,403.8 L564.0,401.8 L565.0,401.8 L565.0,402.4 L566.0,402.4 L566.0,404.1 L567.0,404.1 L567.0,401.9 L568.0,401.9 L568.0,404.4 L569.0,404.4 L569.0,403.4 L570.0,403.4 L570.0,400.2 L571.0,400.2 L571.0,404.7 L572.0,404.7 L572.0,402.4 L573.0,402.4 L573.0,404.4 L574.0,404.4 L574.0,402.6 L575.0,402.6 L575.0,402.4 L576.0,402.4 L576.0,401.3 L577.0,401.3 L577.0,404.4 L578.0,404.4 L578.0,403.2 L579.0,403.2 L579.0,403.5 L580.0,403.5 L580.0,404.0 L581.0,404.0 L581.0,404.2 L582.0,404.2 L582.0,403.1 L583.0,403.1 L583.0,401.0 L584.0,401.0 L584.0,401.5 L585.0,401.5 L585.0,401.0 L586.0,401.0 L586.0,402.3 L587.0,402.3 L587.0,402.9 L588.0,402.9 L588.0,405.4 L589.0,405.4 L589.0,402.6 L590.0,402.6 L590.0,403.3 L591.0,403.3 L591.0,401.2 L592.0,401.2 L592.0,396.4 L593.0,396.4 L593.0,397.0 L594.0,397.0 L594.0,398.7 L595.0,398.7 L595.0,399.6 L596.0,399.6 L596.0,398.1 L597.0,398.1 L597.0,397.7 L598.0,397.7 L598.0,398.0 L599.0,398.0 L599.0,399.4 L600.0,399.4 L600.0,395.1 L601.0,395.1 L601.0,399.9 L602.0,399.9 L602.0,401.0 L603.0,401.0 L603.0,403.4 L604.0,403.4 L604.0,402.4 L605.0,402.4 L605.0,402.0 L606.0,402.0 L606.0,403.3 L607.0,403.3 L607.0,404.1 L608.0,404.1 L608.0,401.3 L609.0,401.3 L609.0,404.4 L610.0,404.4 L610.0,402.8 L611.0,402.8 L611.0,404.2 L612.0,404.2 L612.0,401.2 L613.0,401.2 L613.0,401.6 L614.0,401.6 L614.0,402.7 L615.0,402.7 L615.0,403.3 L616.0,403.3 L616.0,397.8 L617.0,397.8 L617.0,402.0 L618.0,402.0 L618.0,399.3 L619.0,399.3 L619.0,402.0 L620.0,402.0 L620.0,400.0 L621.0,400.0 L621.0,401.5 L622.0,401.5 L622.0,399.3 L623.0,399.3 L623.0,402.3 L624.0,402.3 L624.0,399.7 L625.0,399.7 L625.0,401.8 L626.0,401.8 L626.0,399.2 L627.0,399.2 L627.0,400.8 L628.0,400.8 L628.0,400.0 L629.0,400.0 L629.0,400.4 L630.0,400.4 L630.0,401.4 L631.0,401.4 L631.0,399.8 L632.0,399.8 L632.0,398.3 L633.0,398.3 L633.0,399.9 L634.0,399.9 L634.0,401.3 L635.0,401.3 L635.0,401.7 L636.0,401.7 L636.0,398.2 L637.0,398.2 L637.0,401.8 L638.0,401.8 L638.0,402.1 L639.0,402.1 L639.0,402.2 L640.0,402.2 L640.0,399.1 L641.0,399.1 L641.0,401.9 L642.0,401.9 L642.0,400.6 L643.0,400.6 L643.0,398.7 L644.0,398.7 L644.0,399.1 L645.0,399.1 L645.0,396.9 L646.0,396.9 L646.0,393.3 L647.0,393.3 L647.0,398.4 L648.0,398.4 L648.0,395.9 L649.0,395.9 L649.0,395.0 L650.0,395.0 L650.0,397.3 L651.0,397.3 L651.0,395.5 L652.0,395.5 L652.0,395.6 L653.0,395.6 L653.0,395.0 L654.0,395.0 L654.0,395.1 L655.0,395.1 L655.0,391.6 L656.0,391.6 L656.0,392.7 L657.0,392.7 L657.0,386.8 L658.0,386.8 L658.0,392.8 L659.0,392.8 L659.0,392.4 L660.0,392.4 L660.0,395.4 L661.0,395.4 L661.0,395.3 L662.0,395.3 L662.0,393.9 L663.0,393.9 L663.0,395.6 L664.0,395.6 L664.0,396.0 L665.0,396.0 L665.0,396.5 L666.0,396.5 L666.0,392.9 L667.0,392.9 L667.0,397.8 L668.0,397.8 L668.0,397.4 L669.0,397.4 L669.0,399.0 L670.0,399.0 L670.0,398.6 L671.0,398.6 L671.0,395.3 L672.0,395.3 L672.0,394.7 L673.0,394.7 L673.0,394.1 L674.0,394.1 L674.0,397.7 L675.0,397.7 L675.0,395.3 L676.0,395.3 L676.0,395.3 L677.0,395.3 L677.0,395.5 L678.0,395.5 L678.0,397.5 L679.0,397.5 L679.0,394.1 L680.0,394.1 L680.0,397.0 L681.0,397.0 L681.0,396.7 L682.0,396.7 L682.0,395.8 L683.0,395.8 L683.0,395.4 L684.0,395.4 L684.0,396.9 L685.0,396.9 L685.0,398.1 L686.0,398.1 L686.0,395.8 L687.0,395.8 L687.0,397.6 L688.0,397.6 L688.0,397.2 L689.0,397.2 L689.0,398.3 L690.0,398.3 L690.0,396.2 L691.0,396.2 L691.0,395.1 L692.0,395.1 L692.0,397.9 L693.0,397.9 L693.0,392.0 L694.0,392.0 L694.0,396.7 L695.0,396.7 L695.0,398.4 L696.0,398.4 L696.0,397.0 L697.0,397.0 L697.0,397.4 L698.0,397.4 L698.0,396.3 L699.0,396.3 L699.0,397.4 L700.0,397.4 L700.0,396.1 L701.0,396.1 L701.0,396.6 L702.0,396.6 L702.0,398.7 L703.0,398.7 L703.0,396.2 L704.0,396.2 L704.0,398.4 L705.0,398.4 L705.0,397.9 L706.0,397.9 L706.0,392.0 L707.0,392.0 L707.0,394.5 L708.0,394.5 L708.0,396.2 L709.0,396.2 L709.0,392.4 L710.0,392.4 L710.0,398.2 L711.0,398.2 L711.0,399.2 L712.0,399.2 L712.0,399.1 L713.0,399.1 L713.0,395.2 L714.0,395.2 L714.0,396.3 L715.0,396.3 L715.0,399.0 L716.0,399.0 L716.0,395.9 L717.0,395.9 L717.0,398.6 L718.0,398.6 L718.0,399.5 L719.0,399.5 L719.0,391.9 L720.0,391.9 L720.0,395.8 L721.0,395.8 L721.0,398.2 L722.0,398.2 L722.0,396.4 L723.0,396.4 L723.0,398.2 L724.0,398.2 L724.0,399.7 L725.0,399.7 L725.0,399.8 L726.0,399.8 L726.0,397.4 L727.0,397.4 L727.0,396.8 L728.0,396.8 L728.0,399.9 L729.0,399.9 L729.0,396.7 L730.0,396.7 L730.0,396.6 L731.0,396.6 L731.0,399.0 L732.0,399.0 L732.0,394.1 L733.0,394.1 L733.0,396.2 L734.0,396.2 L734.0,399.2 L735.0,399.2 L735.0,397.9 L736.0,397.9 L736.0,398.5 L737.0,398.5 L737.0,397.6 L738.0,397.6 L738.0,399.5 L739.0,399.5 L739.0,398.3 L740.0,398.3 L740.0,396.8 L741.0,396.8 L741.0,398.9 L742.0,398.9 L742.0,395.3 L743.0,395.3 L743.0,398.2 L744.0,398.2 L744.0,395.3 L745.0,395.3 L745.0,398.8 L746.0,398.8 L746.0,399.0 L747.0,399.0 L747.0,400.0 L748.0,400.0 L748.0,399.9 L749.0,399.9 L749.0,397.4 L750.0,397.4 L750.0,397.2 L751.0,397.2 L751.0,399.3 L752.0,399.3 L752.0,399.5 L753.0,399.5 L753.0,398.9 L754.0,398.9 L754.0,399.2 L755.0,399.2 L755.0,398.6 L756.0,398.6 L756.0,399.6 L757.0,399.6 L757,470 Z" fill="#eef1f4"/><g clip-path="url(#vc)"><rect x="71" y="385" width="1" height="85" fill="#ffffff" opacity="0.35"/><rect x="78" y="385" width="1" height="85" fill="#ffffff" opacity="0.35"/><rect x="84" y="385" width="1" height="85" fill="#ffffff" opacity="0.35"/><rect x="91" y="385" width="1" height="85" fill="#ffffff" opacity="0.35"/><rect x="93" y="385" width="1" height="85" fill="#ffffff" opacity="0.35"/><rect x="103" y="385" width="1" height="85" fill="#ffffff" opacity="0.35"/><rect x="115" y="385" width="1" height="85" fill="#ffffff" opacity="0.35"/><rect x="120" y="385" width="1" height="85" fill="#ffffff" opacity="0.35"/><rect x="130" y="385" width="1" height="85" fill="#ffffff" opacity="0.35"/><rect x="141" y="385" width="1" height="85" fill="#ffffff" opacity="0.35"/><rect x="147" y="385" width="1" height="85" fill="#ffffff" opacity="0.35"/><rect x="157" y="385" width="1" height="85" fill="#ffffff" opacity="0.35"/><rect x="182" y="385" width="1" height="85" fill="#ffffff" opacity="0.35"/><rect x="187" y="385" width="1" height="85" fill="#ffffff" opacity="0.35"/><rect x="198" y="385" width="1" height="85" fill="#ffffff" opacity="0.35"/><rect x="203" y="385" width="1" height="85" fill="#ffffff" opacity="0.35"/><rect x="215" y="385" width="1" height="85" fill="#ffffff" opacity="0.35"/><rect x="224" y="385" width="1" height="85" fill="#ffffff" opacity="0.35"/><rect x="229" y="385" width="1" height="85" fill="#ffffff" opacity="0.35"/><rect x="246" y="385" width="1" height="85" fill="#ffffff" opacity="0.35"/><rect x="267" y="385" width="1" height="85" fill="#ffffff" opacity="0.35"/><rect x="271" y="385" width="1" height="85" fill="#ffffff" opacity="0.35"/><rect x="281" y="385" width="1" height="85" fill="#ffffff" opacity="0.35"/><rect x="288" y="385" width="1" height="85" fill="#ffffff" opacity="0.35"/><rect x="318" y="385" width="1" height="85" fill="#ffffff" opacity="0.35"/><rect x="336" y="385" width="1" height="85" fill="#ffffff" opacity="0.35"/><rect x="350" y="385" width="1" height="85" fill="#ffffff" opacity="0.35"/><rect x="364" y="385" width="1" height="85" fill="#ffffff" opacity="0.35"/><rect x="382" y="385" width="1" height="85" fill="#ffffff" opacity="0.35"/><rect x="470" y="385" width="1" height="85" fill="#ffffff" opacity="0.35"/><rect x="583" y="385" width="1" height="85" fill="#ffffff" opacity="0.35"/><rect x="609" y="385" width="1" height="85" fill="#ffffff" opacity="0.35"/></g><path d="M5.4,352.0 L5.9,347.4 L6.3,343.4 L6.8,339.9 L7.3,341.1 L7.7,342.1 L8.2,342.8 L8.6,340.4 L8.9,337.2 L9.3,330.1 L9.7,329.2 L9.9,323.0 L10.1,318.5 L10.5,319.3 L10.9,319.6 L11.3,319.4 L11.7,319.5 L12.1,318.5 L12.5,317.1 L12.8,315.3 L13.2,311.2 L13.6,307.2 L14.0,304.9 L14.4,306.4 L14.8,307.7 L15.2,309.8 L15.6,311.7 L16.0,313.2 L16.4,312.9 L16.7,312.9 L17.1,313.6 L17.6,314.1 L18.0,316.8 L18.5,317.5 L18.9,316.9 L19.2,316.8 L19.6,314.2 L20.0,315.6 L20.4,316.5 L20.7,318.8 L21.1,321.2 L21.4,318.5 L21.8,320.4 L22.2,322.2 L22.6,330.1 L23.0,334.0 L23.4,327.3 L23.7,320.2 L24.1,310.7 L24.5,311.4 L25.0,310.7 L25.4,308.1 L25.9,306.7 L26.3,307.8 L26.7,305.4 L27.1,303.9 L27.4,300.5 L27.8,299.0 L28.3,293.8 L28.7,290.0 L29.2,284.5 L29.6,282.0 L29.9,282.2 L30.3,282.9 L30.7,280.6 L31.1,281.1 L31.4,282.5 L31.8,281.4 L32.1,283.5 L32.6,281.8 L33.0,277.3 L33.5,271.8 L33.9,273.8 L34.2,274.1 L34.6,275.2 L35.0,275.7 L35.5,285.1 L35.9,294.7 L36.4,302.0 L36.8,300.4 L37.1,296.0 L37.5,293.5 L37.9,290.3 L38.3,291.2 L38.7,286.5 L39.1,285.0 L39.5,283.6 L39.9,282.5 L40.3,280.6 L40.7,282.3 L41.0,279.1 L41.4,279.4 L41.8,278.6 L42.3,276.8 L42.8,272.8 L43.2,267.5 L43.7,264.9 L44.1,262.0 L44.5,261.9 L44.9,260.2 L45.4,262.6 L45.8,260.2 L46.2,259.8 L46.6,258.0 L47.0,256.2 L47.5,253.2 L47.9,248.7 L48.3,245.5 L48.7,248.3 L49.0,245.7 L49.4,246.2 L49.7,243.1 L50.1,243.7 L50.5,243.0 L50.9,243.0 L51.2,242.4 L51.6,239.0 L52.0,238.0 L52.5,233.6 L52.9,231.0 L53.3,227.7 L53.8,225.0 L54.2,221.8 L54.6,216.4 L54.9,215.6 L55.3,209.9 L55.7,206.8 L56.0,196.0 L56.2,183.0 L56.6,182.2 L57.1,180.7 L57.5,181.0 L58.0,178.2 L58.4,177.7 L58.8,182.7 L59.3,184.7 L59.8,190.8 L60.3,195.8 L60.8,193.7 L61.2,188.4 L61.7,195.9 L62.1,202.0 L62.5,194.7 L63.0,187.4 L63.4,182.0 L63.8,183.3 L64.2,188.2 L64.5,189.9 L64.9,194.0 L65.4,197.6 L65.8,201.0 L66.2,202.6 L66.7,206.8 L67.1,209.1 L67.6,215.2 L68.0,216.0 L68.4,215.8 L68.8,215.5 L69.1,217.2 L69.5,218.0 L69.9,225.7 L70.2,234.5 L70.6,240.7 L71.0,249.0 L71.4,244.0 L71.8,235.3 L72.2,232.6 L72.6,229.8 L73.0,227.5 L73.3,221.8 L73.7,217.6 L74.1,214.2 L74.4,214.2 L74.8,219.9 L75.2,222.5 L75.5,223.4 L75.9,220.2 L76.3,219.1 L76.7,220.3 L77.0,214.6 L77.4,213.7 L77.8,213.8 L78.2,219.3 L78.7,221.3 L79.1,224.8 L79.6,229.0 L80.0,229.3 L80.4,228.9 L80.8,227.4 L81.2,230.8 L81.6,230.2 L82.0,230.8 L82.4,232.6 L82.8,237.0 L83.2,240.0 L83.6,240.4 L83.9,241.6 L84.3,246.3 L84.7,249.2 L85.1,251.0 L85.5,247.0 L85.9,246.4 L86.2,245.7 L86.6,245.3 L87.0,240.0 L87.4,238.5 L87.8,236.3 L88.2,235.3 L88.5,231.1 L88.9,228.8 L89.3,226.6 L89.7,225.2 L90.1,224.9 L90.5,226.2 L90.8,226.3 L91.2,225.7 L91.6,224.9 L92.0,225.2 L92.4,224.3 L92.8,225.3 L93.2,229.6 L93.5,230.6 L93.9,233.3 L94.3,234.5 L94.7,234.8 L95.1,234.5 L95.5,234.1 L95.9,236.5 L96.4,238.0 L96.8,238.9 L97.2,238.8 L97.6,240.8 L98.0,241.8 L98.4,241.2 L98.8,244.2 L99.2,244.6 L99.6,243.7 L100.0,245.9 L100.4,249.6 L100.8,249.0 L101.2,249.1 L101.6,251.4 L102.0,252.7 L102.4,252.9 L102.9,251.9 L103.3,252.4 L103.7,254.1 L104.1,254.3 L104.5,256.6 L104.9,256.3 L105.3,255.7 L105.7,253.9 L106.0,252.3 L106.4,252.9 L106.8,250.9 L107.2,251.0 L107.6,249.0 L108.0,246.3 L108.4,245.1 L108.8,241.8 L109.3,240.3 L109.7,241.0 L110.1,237.4 L110.5,236.0 L110.9,234.5 L111.4,235.6 L111.8,237.6 L112.2,239.7 L112.7,240.0 L113.1,242.1 L113.5,244.9 L113.9,247.3 L114.3,249.4 L114.7,250.2 L115.1,252.3 L115.5,254.7 L115.9,254.5 L116.3,253.3 L116.7,251.7 L117.1,251.0 L117.5,252.1 L117.9,250.9 L118.3,251.0 L118.7,249.1 L119.0,246.4 L119.4,245.9 L119.8,244.3 L120.1,243.6 L120.5,243.7 L120.9,245.9 L121.2,250.6 L121.6,251.1 L122.0,254.7 L122.4,256.3 L122.8,255.2 L123.2,255.9 L123.6,252.1 L124.0,250.0 L124.4,250.1 L124.8,248.6 L125.2,252.5 L125.6,251.0 L126.0,249.0 L126.4,251.3 L126.9,253.3 L127.3,251.4 L127.7,251.4 L128.1,251.9 L128.5,253.3 L128.9,250.3 L129.4,251.6 L129.8,251.0 L130.2,252.0 L130.6,252.2 L131.0,252.4 L131.4,254.5 L131.8,255.8 L132.2,253.9 L132.6,254.2 L133.0,251.1 L133.3,255.9 L133.7,254.6 L134.1,252.2 L134.5,251.6 L134.9,250.5 L135.4,249.7 L135.8,250.9 L136.3,252.3 L136.7,253.0 L137.1,254.7 L137.5,256.8 L137.9,260.2 L138.3,267.0 L138.6,272.8 L139.0,278.0 L139.4,280.1 L139.7,281.8 L140.1,283.0 L140.4,285.3 L140.8,285.0 L141.2,284.8 L141.6,286.5 L142.0,290.6 L142.4,289.4 L142.8,292.6 L143.2,292.1 L143.6,295.5 L144.0,298.4 L144.4,294.9 L144.8,291.9 L145.3,287.9 L145.7,285.0 L146.1,286.8 L146.4,287.5 L146.8,288.8 L147.1,289.1 L147.5,289.4 L147.9,287.8 L148.3,288.2 L148.7,287.9 L149.0,287.0 L149.4,286.3 L149.8,283.6 L150.2,286.0 L150.6,288.5 L151.0,288.5 L151.3,288.4 L151.7,291.3 L152.1,290.0 L152.5,291.6 L152.9,291.4 L153.4,290.4 L153.8,291.4 L154.3,289.9 L154.7,292.8 L155.1,292.9 L155.5,292.7 L155.8,295.0 L156.2,294.2 L156.6,294.5 L157.0,295.0 L157.4,293.0 L157.9,292.5 L158.3,289.1 L158.8,289.5 L159.2,289.4 L159.6,289.4 L160.0,289.6 L160.3,289.3 L160.7,287.1 L161.1,285.7 L161.5,285.0 L161.9,284.8 L162.4,286.4 L162.8,284.3 L163.3,286.4 L163.7,287.0 L164.1,288.6 L164.5,286.4 L164.9,286.3 L165.3,286.3 L165.8,285.9 L166.2,283.7 L166.6,284.2 L167.0,284.9 L167.4,285.3 L167.8,284.5 L168.2,285.3 L168.5,284.4 L168.9,284.3 L169.3,283.8 L169.7,277.8 L170.0,276.8 L170.4,271.4 L170.8,271.0 L171.2,270.3 L171.6,269.1 L171.9,268.7 L172.3,267.2 L172.7,267.0 L173.1,265.6 L173.5,267.7 L173.8,266.5 L174.2,263.1 L174.6,267.1 L175.0,265.8 L175.4,266.0 L175.9,265.1 L176.3,263.9 L176.8,263.3 L177.2,260.2 L177.6,258.6 L177.9,255.8 L178.3,255.7 L178.7,251.4 L179.1,249.7 L179.4,248.5 L179.8,243.1 L180.2,240.6 L180.6,237.7 L181.0,236.1 L181.3,236.3 L181.7,237.0 L182.1,235.5 L182.4,238.0 L182.8,240.0 L183.2,236.7 L183.6,235.9 L184.0,233.2 L184.4,233.4 L184.9,234.1 L185.3,236.2 L185.8,238.6 L186.2,240.0 L186.6,239.2 L186.9,233.0 L187.3,233.3 L187.7,231.2 L188.0,227.4 L188.4,226.5 L188.8,223.2 L189.3,216.1 L189.8,210.1 L190.2,206.2 L190.6,210.1 L191.0,210.5 L191.4,213.6 L191.8,217.5 L192.2,216.4 L192.7,215.1 L193.1,210.4 L193.6,209.0 L194.0,208.5 L194.4,209.6 L194.8,214.6 L195.2,215.6 L195.5,220.9 L195.9,225.7 L196.3,226.5 L196.7,225.1 L197.2,224.2 L197.6,224.9 L198.1,223.8 L198.5,224.2 L198.9,221.9 L199.3,217.0 L199.7,212.5 L200.1,211.9 L200.5,211.7 L200.9,212.8 L201.3,216.2 L201.8,216.9 L202.2,218.2 L202.6,219.0 L203.0,222.0 L203.4,221.2 L203.8,222.7 L204.1,223.4 L204.5,220.0 L204.9,221.3 L205.3,220.1 L205.6,221.7 L206.0,219.8 L206.4,219.7 L206.8,223.3 L207.2,221.0 L207.5,220.7 L207.9,225.7 L208.3,220.9 L208.7,223.3 L209.0,222.7 L209.4,223.5 L209.8,223.0 L210.2,227.0 L210.5,233.9 L210.9,235.4 L211.3,237.1 L211.7,233.4 L212.0,236.8 L212.4,237.8 L212.8,240.5 L213.2,235.0 L213.5,235.3 L213.9,236.8 L214.3,237.7 L214.7,237.8 L215.1,240.3 L215.5,241.4 L215.9,240.3 L216.4,241.9 L216.8,242.6 L217.2,241.5 L217.6,242.2 L218.0,240.0 L218.4,237.9 L218.8,235.8 L219.1,233.6 L219.5,228.2 L219.9,227.6 L220.3,228.4 L220.8,227.2 L221.2,229.6 L221.7,228.8 L222.1,229.8 L222.6,230.1 L223.1,231.1 L223.5,232.7 L223.9,234.5 L224.3,237.4 L224.7,238.4 L225.1,239.3 L225.6,242.8 L226.1,245.4 L226.5,242.9 L226.9,243.6 L227.4,243.0 L227.8,241.2 L228.2,241.3 L228.6,244.9 L228.9,242.0 L229.3,245.4 L229.7,249.2 L230.1,246.8 L230.4,248.5 L230.8,245.2 L231.2,249.5 L231.6,248.5 L232.0,248.0 L232.5,245.9 L232.9,242.2 L233.3,243.4 L233.7,244.5 L234.1,245.0 L234.5,247.4 L234.9,247.7 L235.3,246.5 L235.7,243.9 L236.1,238.1 L236.6,236.6 L237.0,237.4 L237.4,235.2 L237.8,232.8 L238.2,230.0 L238.6,229.0 L239.0,230.1 L239.4,232.1 L239.8,232.7 L240.2,231.4 L240.7,228.9 L241.1,229.9 L241.5,228.0 L241.9,227.9 L242.3,226.6 L242.7,225.3 L243.1,224.3 L243.5,224.0 L243.9,223.8 L244.3,223.4 L244.8,220.7 L245.2,220.9 L245.6,222.0 L246.0,221.4 L246.4,221.7 L246.8,222.2 L247.2,223.0 L247.6,224.0 L248.0,226.3 L248.4,228.5 L248.9,226.2 L249.3,227.2 L249.7,229.0 L250.0,231.4 L250.4,235.0 L250.8,237.2 L251.1,239.3 L251.5,252.5 L251.9,260.5 L252.3,269.0 L252.8,267.0 L253.2,261.6 L253.7,257.7 L254.1,258.4 L254.5,254.1 L255.0,254.1 L255.4,252.2 L255.8,250.6 L256.2,248.9 L256.6,247.4 L257.0,246.2 L257.4,248.3 L257.7,246.9 L258.1,247.2 L258.5,244.8 L258.9,245.4 L259.3,244.2 L259.7,246.3 L260.1,245.2 L260.5,246.9 L260.9,247.5 L261.3,244.9 L261.7,241.6 L262.1,237.6 L262.5,234.4 L262.9,233.2 L263.3,232.7 L263.7,231.3 L264.1,230.9 L264.6,229.0 L265.0,225.1 L265.4,224.0 L265.8,225.0 L266.2,225.2 L266.6,225.8 L267.0,228.4 L267.4,231.1 L267.8,230.3 L268.2,228.0 L268.6,225.3 L269.0,225.9 L269.5,226.4 L269.9,225.8 L270.3,223.9 L270.7,223.0 L271.1,224.0 L271.5,224.1 L271.9,221.1 L272.4,227.0 L272.8,227.9 L273.2,227.0 L273.6,228.0 L273.9,226.4 L274.3,227.7 L274.7,228.0 L275.1,229.0 L275.4,228.9 L275.8,229.8 L276.2,228.0 L276.6,227.8 L277.0,227.7 L277.4,227.4 L277.8,229.2 L278.1,227.5 L278.5,229.0 L278.9,229.9 L279.3,229.0 L279.7,227.6 L280.1,227.6 L280.5,227.8 L280.9,228.7 L281.2,228.2 L281.6,225.4 L282.0,229.3 L282.4,228.0 L282.8,225.7 L283.1,223.7 L283.5,219.3 L283.9,218.3 L284.3,216.3 L284.6,212.2 L285.0,212.7 L285.4,214.2 L285.8,214.7 L286.2,215.7 L286.6,216.8 L286.9,215.7 L287.3,213.9 L287.7,213.5 L288.1,212.7 L288.5,210.7 L288.9,209.1 L289.3,208.7 L289.7,211.9 L290.1,212.8 L290.4,214.9 L290.8,211.3 L291.2,211.0 L291.6,212.7 L292.0,216.2 L292.4,219.4 L292.8,221.6 L293.2,221.9 L293.6,221.6 L294.0,221.2 L294.4,222.7 L294.9,220.5 L295.3,218.7 L295.7,218.9 L296.1,219.3 L296.5,218.7 L296.9,219.7 L297.3,219.8 L297.7,219.9 L298.1,219.4 L298.5,217.4 L298.9,218.1 L299.2,216.8 L299.6,217.3 L300.0,217.7 L300.4,217.7 L300.8,217.8 L301.2,216.7 L301.6,215.5 L302.0,213.1 L302.4,212.7 L302.8,212.7 L303.2,213.0 L303.6,209.8 L304.1,207.1 L304.5,206.3 L304.9,204.5 L305.3,202.0 L305.6,203.8 L306.0,202.6 L306.4,202.3 L306.8,201.3 L307.1,197.7 L307.5,198.5 L307.9,196.4 L308.3,196.6 L308.6,195.9 L309.0,193.8 L309.4,189.1 L309.7,186.4 L310.1,186.6 L310.5,187.3 L310.9,185.7 L311.2,182.1 L311.6,183.7 L312.0,180.3 L312.4,178.8 L312.8,180.1 L313.1,177.7 L313.5,179.3 L313.9,181.1 L314.2,181.9 L314.6,181.0 L315.0,179.3 L315.4,180.9 L315.8,179.6 L316.2,178.8 L316.6,176.6 L316.9,174.2 L317.3,172.6 L317.6,167.6 L318.0,166.4 L318.4,163.1 L318.9,160.1 L319.3,155.4 L319.8,156.0 L320.2,152.9 L320.6,148.6 L321.0,144.3 L321.4,141.2 L321.7,136.9 L322.1,132.9 L322.5,129.3 L322.9,132.5 L323.2,130.9 L323.6,133.0 L323.9,133.2 L324.3,133.8 L324.8,135.0 L325.2,140.6 L325.6,144.3 L325.9,144.0 L326.3,146.1 L326.6,147.8 L327.0,147.3 L327.4,145.2 L327.7,143.7 L328.1,138.7 L328.4,137.4 L328.8,134.9 L329.2,130.4 L329.6,124.7 L329.9,121.1 L330.3,119.2 L330.7,117.1 L331.1,116.3 L331.5,116.8 L331.8,116.2 L332.2,118.4 L332.6,117.0 L333.0,113.2 L333.3,109.4 L333.7,105.7 L334.1,111.0 L334.4,111.5 L334.8,113.8 L335.1,116.5 L335.5,119.2 L335.9,114.7 L336.3,110.2 L336.6,109.0 L337.0,106.2 L337.4,103.0 L337.8,101.2 L338.2,101.6 L338.7,102.3 L339.1,107.4 L339.6,107.6 L340.0,111.3 L340.4,110.0 L340.8,108.8 L341.2,108.4 L341.5,108.0 L341.9,104.0 L342.3,103.7 L342.7,102.4 L343.1,101.6 L343.5,102.5 L343.9,102.0 L344.4,101.1 L344.8,99.4 L345.2,98.8 L345.6,99.0 L346.0,103.4 L346.4,106.7 L346.8,109.7 L347.2,112.4 L347.6,114.7 L348.1,111.3 L348.5,108.0 L348.9,104.5 L349.4,104.6 L349.8,105.1 L350.2,104.2 L350.5,105.3 L350.9,105.7 L351.3,106.1 L351.7,105.7 L352.1,108.5 L352.6,114.2 L353.0,119.2 L353.5,127.1 L353.9,130.4 L354.3,132.0 L354.6,134.8 L355.0,134.6 L355.3,134.6 L355.7,137.2 L356.1,135.4 L356.5,139.3 L356.9,138.2 L357.2,139.8 L357.6,141.1 L358.0,139.4 L358.4,136.8 L358.8,135.6 L359.2,133.5 L359.6,131.4 L360.0,129.3 L360.4,132.6 L360.7,134.4 L361.1,138.7 L361.4,139.7 L361.8,140.6 L362.2,139.3 L362.5,136.3 L362.9,139.0 L363.2,138.2 L363.6,137.2 L364.0,139.9 L364.4,142.1 L364.8,141.8 L365.1,144.4 L365.5,143.1 L365.9,144.0 L366.3,143.9 L366.7,145.0 L367.0,144.8 L367.4,145.9 L367.7,145.7 L368.1,148.4 L368.5,143.5 L368.9,138.3 L369.3,136.4 L369.7,134.9 L370.1,136.4 L370.6,135.7 L371.0,130.9 L371.5,126.2 L371.9,123.7 L372.3,121.5 L372.7,120.3 L373.0,119.8 L373.4,119.5 L373.8,119.4 L374.2,117.0 L374.6,115.3 L375.0,116.5 L375.4,118.9 L375.9,114.7 L376.3,117.4 L376.7,117.1 L377.1,119.7 L377.5,118.1 L377.9,116.9 L378.3,113.0 L378.6,111.3 L379.0,110.8 L379.4,112.0 L379.8,111.3 L380.2,114.7 L380.6,118.0 L380.9,119.5 L381.3,120.3 L381.7,121.9 L382.1,122.1 L382.5,123.5 L382.8,126.7 L383.2,128.7 L383.6,128.2 L384.0,124.2 L384.4,123.2 L384.8,118.8 L385.3,115.8 L385.7,112.3 L386.1,109.3 L386.5,108.0 L386.9,105.6 L387.4,104.3 L387.8,101.6 L388.2,105.7 L388.6,102.9 L389.0,103.7 L389.5,98.1 L389.9,97.9 L390.3,96.6 L390.7,98.3 L391.0,97.5 L391.4,101.2 L391.8,101.6 L392.2,101.9 L392.6,98.7 L393.0,95.9 L393.4,95.0 L393.7,95.1 L394.1,95.7 L394.5,94.7 L394.9,94.4 L395.3,100.3 L395.7,97.8 L396.0,100.1 L396.4,101.0 L396.8,102.4 L397.2,104.1 L397.6,104.0 L398.1,101.4 L398.5,102.1 L399.0,103.9 L399.4,106.3 L399.8,107.0 L400.1,106.8 L400.5,110.0 L400.8,112.4 L401.2,114.2 L401.6,115.7 L402.0,116.0 L402.4,117.9 L402.7,117.4 L403.1,114.4 L403.5,118.7 L403.9,118.4 L404.3,118.2 L404.7,117.5 L405.0,118.2 L405.4,117.7 L405.8,115.5 L406.2,113.1 L406.6,115.0 L407.1,117.4 L407.5,117.2 L408.0,120.4 L408.4,123.2 L408.8,125.5 L409.2,124.9 L409.6,124.5 L410.1,124.7 L410.5,123.6 L410.9,125.7 L411.3,128.8 L411.7,129.8 L412.1,136.4 L412.5,137.8 L412.9,137.7 L413.4,135.4 L413.8,133.2 L414.3,132.2 L414.7,130.0 L415.1,127.9 L415.5,128.4 L415.9,126.8 L416.2,125.3 L416.6,123.4 L417.0,123.2 L417.4,123.8 L417.7,126.2 L418.1,128.5 L418.4,130.9 L418.8,133.3 L419.2,131.2 L419.7,127.8 L420.1,128.1 L420.6,125.3 L421.0,122.1 L421.4,124.8 L421.8,123.1 L422.1,126.2 L422.5,127.9 L422.9,130.9 L423.3,131.0 L423.7,128.7 L424.2,128.8 L424.6,125.6 L425.1,126.9 L425.5,126.6 L425.9,124.5 L426.3,123.9 L426.7,122.8 L427.0,119.1 L427.4,120.7 L427.8,120.8 L428.2,118.3 L428.6,120.4 L429.0,123.0 L429.3,123.3 L429.7,124.7 L430.1,124.5 L430.5,125.0 L430.8,125.8 L431.2,127.3 L431.6,128.8 L432.0,131.0 L432.4,131.1 L432.8,129.0 L433.2,129.7 L433.7,129.7 L434.1,130.0 L434.5,130.6 L434.9,130.0 L435.3,131.1 L435.6,129.6 L436.0,130.7 L436.3,129.5 L436.7,133.3 L437.1,135.1 L437.5,143.2 L437.9,147.1 L438.3,150.2 L438.7,147.6 L439.1,150.6 L439.5,149.6 L439.8,149.7 L440.2,150.5 L440.6,151.3 L441.0,152.8 L441.4,150.2 L441.8,150.7 L442.3,150.9 L442.7,148.9 L443.1,148.6 L443.5,145.7 L443.9,144.4 L444.3,148.6 L444.7,148.4 L445.1,150.2 L445.5,155.7 L446.0,161.7 L446.4,167.9 L446.9,173.2 L447.3,178.3 L447.7,177.6 L448.1,177.3 L448.5,174.4 L448.8,172.6 L449.2,173.9 L449.6,172.6 L450.0,173.8 L450.5,173.6 L450.9,175.8 L451.4,177.4 L451.8,177.1 L452.2,176.8 L452.6,175.3 L453.1,172.9 L453.5,170.6 L453.9,169.5 L454.4,168.3 L454.8,169.6 L455.2,165.9 L455.6,164.2 L456.1,164.6 L456.5,166.2 L457.0,166.0 L457.4,167.0 L457.8,167.7 L458.2,167.9 L458.5,168.6 L458.9,167.6 L459.3,167.8 L459.7,165.7 L460.0,164.5 L460.4,164.6 L460.8,163.2 L461.2,163.5 L461.7,168.0 L462.1,167.4 L462.6,169.8 L463.0,172.6 L463.4,172.4 L463.8,174.1 L464.1,172.2 L464.5,172.8 L464.9,175.9 L465.3,177.1 L465.7,174.8 L466.2,173.1 L466.6,174.1 L467.1,170.8 L467.5,169.3 L467.9,168.7 L468.3,170.3 L468.6,174.1 L469.0,175.7 L469.4,178.7 L469.8,180.5 L470.2,179.0 L470.6,181.3 L471.0,179.2 L471.5,176.5 L471.9,179.1 L472.3,177.1 L472.7,177.1 L473.1,177.2 L473.5,176.9 L473.8,179.0 L474.2,179.3 L474.6,182.3 L475.0,177.1 L475.4,176.6 L475.7,177.8 L476.1,178.4 L476.5,178.3 L476.9,177.7 L477.4,177.3 L477.8,173.4 L478.2,173.4 L478.6,175.0 L479.0,174.8 L479.5,174.0 L479.9,172.6 L480.3,179.2 L480.7,182.5 L481.1,189.1 L481.5,189.9 L481.9,188.3 L482.2,189.9 L482.6,189.8 L483.0,189.4 L483.4,191.4 L483.8,191.0 L484.1,187.4 L484.5,191.8 L484.9,191.0 L485.2,189.8 L485.6,188.0 L486.0,188.9 L486.4,189.4 L486.8,185.0 L487.1,187.0 L487.5,185.7 L487.9,186.8 L488.3,185.2 L488.7,185.9 L489.1,185.5 L489.5,184.6 L489.9,184.5 L490.2,186.2 L490.6,185.7 L490.9,186.9 L491.3,189.1 L491.7,188.1 L492.1,189.8 L492.5,189.1 L493.0,188.1 L493.4,190.1 L493.8,188.9 L494.2,189.8 L494.6,188.0 L495.0,183.2 L495.4,182.1 L495.8,178.5 L496.2,173.3 L496.6,172.8 L496.9,171.8 L497.3,169.5 L497.6,166.6 L498.0,167.7 L498.4,167.1 L498.8,169.1 L499.2,166.0 L499.5,165.7 L499.9,165.7 L500.3,165.4 L500.7,165.5 L501.1,165.3 L501.4,166.3 L501.8,166.6 L502.1,168.9 L502.5,170.0 L502.9,169.0 L503.3,167.7 L503.7,165.1 L504.0,161.6 L504.4,163.4 L504.8,163.0 L505.2,162.1 L505.6,164.3 L506.0,161.2 L506.4,163.9 L506.7,162.1 L507.1,165.4 L507.5,166.6 L507.9,168.9 L508.2,169.2 L508.6,172.5 L508.9,174.4 L509.3,175.6 L509.7,170.2 L510.0,166.7 L510.4,161.0 L510.7,157.1 L511.1,155.3 L511.5,154.8 L511.9,152.9 L512.3,154.5 L512.6,154.7 L513.0,153.6 L513.4,153.7 L513.8,154.2 L514.2,154.3 L514.6,154.4 L514.9,155.3 L515.3,152.8 L515.7,152.1 L516.1,152.2 L516.4,149.6 L516.8,151.9 L517.2,148.6 L517.6,149.6 L518.1,152.4 L518.5,154.5 L519.0,153.9 L519.4,155.3 L519.8,153.8 L520.2,153.4 L520.5,152.2 L520.9,151.4 L521.3,151.4 L521.7,150.8 L522.1,153.2 L522.5,150.7 L522.9,152.7 L523.4,153.0 L523.8,152.8 L524.2,152.6 L524.6,155.1 L525.0,155.3 L525.4,154.2 L525.9,156.0 L526.3,155.1 L526.7,156.8 L527.1,159.1 L527.5,159.1 L528.0,157.0 L528.4,156.4 L528.8,160.1 L529.2,159.5 L529.5,158.8 L529.9,159.1 L530.3,159.1 L530.7,158.7 L531.1,159.4 L531.6,161.7 L532.0,162.5 L532.5,161.5 L532.9,160.9 L533.3,156.3 L533.7,151.2 L534.1,148.6 L534.5,148.9 L534.9,149.6 L535.3,149.1 L535.8,148.5 L536.2,149.3 L536.6,148.4 L537.0,149.4 L537.4,147.4 L537.8,145.7 L538.2,147.7 L538.5,146.8 L538.9,144.5 L539.3,147.6 L539.7,148.6 L540.1,149.1 L540.5,147.8 L540.9,149.6 L541.4,148.9 L541.8,149.8 L542.2,149.8 L542.6,151.2 L543.0,150.4 L543.4,150.9 L543.9,150.7 L544.3,151.0 L544.7,151.1 L545.1,152.8 L545.5,150.1 L546.0,149.4 L546.4,150.8 L546.8,152.6 L547.2,156.2 L547.6,158.7 L548.0,160.8 L548.4,161.2 L548.8,160.5 L549.2,157.1 L549.7,158.2 L550.1,159.9 L550.5,160.6 L550.9,157.6 L551.3,157.5 L551.7,155.6 L552.0,157.7 L552.4,157.9 L552.8,158.0 L553.2,159.8 L553.6,161.3 L554.1,159.1 L554.5,155.7 L554.9,158.3 L555.3,157.8 L555.8,158.0 L556.2,156.5 L556.6,156.4 L557.0,156.4 L557.4,158.0 L557.8,155.7 L558.1,157.8 L558.5,155.6 L558.9,157.2 L559.3,155.3 L559.7,153.8 L560.0,152.8 L560.4,154.1 L560.8,154.2 L561.1,153.4 L561.5,155.3 L561.9,152.8 L562.3,152.2 L562.6,148.0 L563.0,146.4 L563.4,140.3 L563.8,139.5 L564.2,140.4 L564.6,140.6 L565.0,141.1 L565.5,140.1 L565.9,138.8 L566.3,139.9 L566.7,137.3 L567.1,138.4 L567.5,137.1 L567.9,138.5 L568.4,135.6 L568.8,138.2 L569.2,136.8 L569.6,135.0 L570.0,133.7 L570.4,135.3 L570.8,134.4 L571.2,133.9 L571.6,133.4 L572.0,130.5 L572.4,131.6 L572.7,127.2 L573.1,125.8 L573.5,123.8 L573.9,123.8 L574.3,123.7 L574.7,123.7 L575.2,123.6 L575.6,124.4 L576.0,125.8 L576.4,124.9 L576.8,123.5 L577.2,122.2 L577.6,124.4 L577.9,123.4 L578.3,124.4 L578.7,122.3 L579.1,123.3 L579.5,123.2 L579.9,120.0 L580.2,121.7 L580.6,122.0 L581.0,118.9 L581.4,119.3 L581.8,117.0 L582.1,119.8 L582.5,123.4 L582.8,124.7 L583.2,124.9 L583.6,126.2 L584.0,124.8 L584.3,127.4 L584.7,129.4 L585.1,127.5 L585.5,128.0 L585.9,128.1 L586.3,125.4 L586.7,125.2 L587.1,122.1 L587.5,123.6 L587.9,119.8 L588.3,119.5 L588.7,117.1 L589.1,115.5 L589.5,112.9 L589.9,112.5 L590.3,113.5 L590.7,111.4 L591.1,112.8 L591.5,111.6 L592.0,112.8 L592.4,111.4 L592.8,110.4 L593.2,104.1 L593.6,101.3 L594.0,97.5 L594.4,94.7 L594.7,93.1 L595.1,92.6 L595.6,92.9 L596.0,89.0 L596.5,89.3 L596.9,93.1 L597.4,94.4 L597.8,97.5 L598.2,98.1 L598.6,93.1 L599.0,92.6 L599.4,92.6 L599.8,93.6 L600.2,93.4 L600.6,92.4 L601.0,90.9 L601.4,88.7 L601.8,89.3 L602.2,89.2 L602.6,88.5 L603.0,90.9 L603.4,90.5 L603.8,95.7 L604.2,95.2 L604.6,98.3 L605.0,98.4 L605.5,99.3 L605.9,99.9 L606.3,101.2 L606.7,99.1 L607.1,97.5 L607.5,99.3 L607.9,100.1 L608.3,100.9 L608.7,103.2 L609.1,103.3 L609.5,101.4 L610.0,98.8 L610.4,99.1 L610.8,97.5 L611.2,95.7 L611.6,95.8 L612.0,92.6 L612.4,93.1 L612.8,92.3 L613.2,91.0 L613.6,90.9 L614.0,90.4 L614.5,91.8 L614.9,93.4 L615.3,93.4 L615.7,94.3 L616.1,89.6 L616.5,91.2 L616.9,91.7 L617.3,92.2 L617.7,92.7 L618.1,96.3 L618.6,95.8 L619.0,94.9 L619.4,96.6 L619.8,98.2 L620.2,97.2 L620.6,98.2 L621.0,99.9 L621.4,102.4 L621.8,100.6 L622.2,101.3 L622.6,101.2 L623.0,101.6 L623.4,103.2 L623.9,104.5 L624.3,106.5 L624.7,104.2 L625.1,101.9 L625.5,100.3 L625.9,99.1 L626.3,96.4 L626.7,95.8 L627.1,93.4 L627.5,94.0 L627.9,93.4 L628.3,94.4 L628.7,94.2 L629.1,94.6 L629.5,95.8 L629.9,99.4 L630.4,101.9 L630.8,105.1 L631.2,108.1 L631.6,106.7 L632.0,106.2 L632.4,103.7 L632.8,102.4 L633.2,99.1 L633.5,100.3 L633.9,100.7 L634.3,99.6 L634.7,98.6 L635.0,100.2 L635.4,98.3 L635.8,98.9 L636.2,100.1 L636.6,103.6 L637.0,104.0 L637.4,103.8 L637.9,107.3 L638.3,108.7 L638.7,108.1 L639.1,107.3 L639.5,104.3 L639.8,103.5 L640.2,104.5 L640.6,101.6 L641.0,100.8 L641.4,101.3 L641.9,100.2 L642.3,98.0 L642.7,94.8 L643.1,96.6 L643.5,98.1 L643.9,96.8 L644.3,98.1 L644.7,99.1 L645.1,98.8 L645.5,101.4 L646.0,102.3 L646.4,101.6 L646.8,100.8 L647.2,99.3 L647.6,94.1 L648.0,94.2 L648.4,93.7 L648.8,93.0 L649.2,93.2 L649.7,93.7 L650.1,94.4 L650.5,93.4 L650.9,90.2 L651.3,89.9 L651.7,90.7 L652.1,89.3 L652.5,86.4 L653.0,85.0 L653.4,82.7 L653.8,79.5 L654.1,75.4 L654.5,77.1 L654.9,75.1 L655.4,72.0 L655.8,71.6 L656.2,69.6 L656.6,70.0 L657.0,72.0 L657.5,72.8 L657.9,70.6 L658.3,70.5 L658.7,69.5 L659.1,71.5 L659.6,70.7 L660.0,68.0 L660.4,68.4 L660.8,68.4 L661.2,68.3 L661.6,66.4 L662.0,65.8 L662.3,64.0 L662.7,63.9 L663.1,64.0 L663.5,65.3 L664.0,69.9 L664.4,70.5 L664.8,70.0 L665.2,70.9 L665.6,69.1 L666.0,71.3 L666.4,70.8 L666.9,71.0 L667.3,73.3 L667.7,72.9 L668.1,72.6 L668.5,69.4 L668.9,68.6 L669.3,68.0 L669.7,65.3 L670.1,63.2 L670.5,62.8 L670.9,63.9 L671.3,62.3 L671.8,61.0 L672.2,63.2 L672.6,66.4 L673.0,66.2 L673.4,66.3 L673.8,67.6 L674.2,69.6 L674.6,68.6 L675.0,70.7 L675.5,70.4 L675.9,73.0 L676.3,71.5 L676.7,70.5 L677.1,70.5 L677.4,68.7 L677.8,69.5 L678.2,71.6 L678.6,71.0 L679.1,71.6 L679.5,72.0 L679.8,77.5 L680.1,79.4 L680.5,79.2 L680.8,77.8 L681.2,76.6 L681.6,79.2 L681.9,82.4 L682.3,83.3 L682.7,78.2 L683.1,81.7 L683.6,80.5 L684.0,78.8 L684.4,78.4 L684.9,77.7 L685.3,78.2 L685.7,77.1 L686.1,77.6 L686.5,77.5 L687.0,77.8 L687.4,79.4 L687.8,79.8 L688.2,80.2 L688.7,82.4 L689.1,85.6 L689.5,82.1 L689.8,81.5 L690.2,79.4 L690.6,78.9 L691.0,77.6 L691.5,79.7 L691.9,78.8 L692.3,78.2 L692.6,75.3 L693.0,72.0 L693.4,72.2 L693.9,72.4 L694.3,72.2 L694.7,70.4 L695.1,71.0 L695.5,67.2 L696.0,67.3 L696.4,65.3 L696.8,64.5 L697.2,62.0 L697.7,64.2 L698.1,64.2 L698.6,62.7 L699.0,62.4 L699.5,60.8 L700.0,60.0 L700.4,60.6 L700.9,63.1 L701.3,65.6 L701.8,63.9 L702.2,64.8 L702.6,65.9 L703.1,66.3 L703.5,64.4 L704.0,61.4 L704.5,62.5 L704.9,60.7 L705.4,64.2 L705.8,65.1 L706.3,66.2 L706.7,66.4 L707.1,63.8 L707.5,64.0 L707.8,64.5 L708.2,63.1 L708.6,63.7 L709.0,65.2 L709.5,63.4 L709.9,61.9 L710.3,62.0 L710.8,59.4 L711.2,57.4 L711.6,56.3 L712.0,56.0 L712.4,55.8 L712.8,55.7 L713.2,55.7 L713.7,55.7 L714.1,55.5 L714.5,55.6 L715.0,56.3 L715.4,57.8 L715.8,57.0 L716.2,57.9 L716.6,59.1 L717.0,55.9 L717.4,56.0 L717.8,53.8 L718.1,53.5 L718.5,53.8 L718.9,54.1 L719.3,53.4 L719.8,55.7 L720.2,55.1 L720.6,57.4 L721.0,57.5 L721.5,59.5 L721.9,60.3 L722.4,60.6 L722.8,61.4 L723.2,61.1 L723.6,58.0 L724.1,58.9 L724.5,59.7 L724.9,59.3 L725.2,58.8 L725.6,59.4 L726.0,58.9 L726.3,58.2 L726.7,56.9 L727.2,57.8 L727.6,55.5 L728.1,58.0 L728.5,58.8 L728.9,60.8 L729.2,60.3 L729.6,61.4 L730.0,59.8 L730.4,58.3 L730.8,54.6 L731.2,52.9 L731.6,55.4 L732.0,53.5 L732.4,54.6 L732.8,58.1 L733.1,59.8 L733.5,60.8 L733.9,59.7 L734.4,60.5 L734.8,59.5 L735.2,59.7 L735.6,62.8 L735.9,63.5 L736.3,63.6 L736.7,63.4 L737.0,60.1 L737.4,59.1 L737.8,61.4 L738.2,61.1 L738.7,63.9 L739.1,63.6 L739.5,64.5 L739.8,64.8 L740.2,67.0 L740.6,68.8 L741.0,70.9 L741.5,72.1 L741.9,74.9 L742.3,77.4 L742.7,78.3 L743.1,78.8 L743.5,75.1 L743.8,76.4 L744.2,74.9 L744.6,75.4 L745.0,73.1 L745.5,71.8 L745.9,72.6 L746.3,73.5 L746.8,72.6 L747.2,74.2 L747.6,74.9 L748.0,75.7 L748.4,78.7 L748.8,75.5 L749.2,78.2 L749.6,77.7 L750.0,78.3 L750.5,78.6 L750.9,76.6 L751.3,76.8 L751.8,76.9 L752.2,75.5 L752.6,76.0 L753.0,74.2 L753.3,73.7 L753.7,72.6 L754.1,71.1 L754.5,71.3 L755.0,70.4 L755.4,69.8 L755.8,73.0 L756.2,73.5 L756.6,76.0 L756.6,379 L5.4,379 Z" fill="url(#fg)"/><path d="M5.4,352.0 L5.9,347.4 L6.3,343.4 L6.8,339.9 L7.3,341.1 L7.7,342.1 L8.2,342.8 L8.6,340.4 L8.9,337.2 L9.3,330.1 L9.7,329.2 L9.9,323.0 L10.1,318.5 L10.5,319.3 L10.9,319.6 L11.3,319.4 L11.7,319.5 L12.1,318.5 L12.5,317.1 L12.8,315.3 L13.2,311.2 L13.6,307.2 L14.0,304.9 L14.4,306.4 L14.8,307.7 L15.2,309.8 L15.6,311.7 L16.0,313.2 L16.4,312.9 L16.7,312.9 L17.1,313.6 L17.6,314.1 L18.0,316.8 L18.5,317.5 L18.9,316.9 L19.2,316.8 L19.6,314.2 L20.0,315.6 L20.4,316.5 L20.7,318.8 L21.1,321.2 L21.4,318.5 L21.8,320.4 L22.2,322.2 L22.6,330.1 L23.0,334.0 L23.4,327.3 L23.7,320.2 L24.1,310.7 L24.5,311.4 L25.0,310.7 L25.4,308.1 L25.9,306.7 L26.3,307.8 L26.7,305.4 L27.1,303.9 L27.4,300.5 L27.8,299.0 L28.3,293.8 L28.7,290.0 L29.2,284.5 L29.6,282.0 L29.9,282.2 L30.3,282.9 L30.7,280.6 L31.1,281.1 L31.4,282.5 L31.8,281.4 L32.1,283.5 L32.6,281.8 L33.0,277.3 L33.5,271.8 L33.9,273.8 L34.2,274.1 L34.6,275.2 L35.0,275.7 L35.5,285.1 L35.9,294.7 L36.4,302.0 L36.8,300.4 L37.1,296.0 L37.5,293.5 L37.9,290.3 L38.3,291.2 L38.7,286.5 L39.1,285.0 L39.5,283.6 L39.9,282.5 L40.3,280.6 L40.7,282.3 L41.0,279.1 L41.4,279.4 L41.8,278.6 L42.3,276.8 L42.8,272.8 L43.2,267.5 L43.7,264.9 L44.1,262.0 L44.5,261.9 L44.9,260.2 L45.4,262.6 L45.8,260.2 L46.2,259.8 L46.6,258.0 L47.0,256.2 L47.5,253.2 L47.9,248.7 L48.3,245.5 L48.7,248.3 L49.0,245.7 L49.4,246.2 L49.7,243.1 L50.1,243.7 L50.5,243.0 L50.9,243.0 L51.2,242.4 L51.6,239.0 L52.0,238.0 L52.5,233.6 L52.9,231.0 L53.3,227.7 L53.8,225.0 L54.2,221.8 L54.6,216.4 L54.9,215.6 L55.3,209.9 L55.7,206.8 L56.0,196.0 L56.2,183.0 L56.6,182.2 L57.1,180.7 L57.5,181.0 L58.0,178.2 L58.4,177.7 L58.8,182.7 L59.3,184.7 L59.8,190.8 L60.3,195.8 L60.8,193.7 L61.2,188.4 L61.7,195.9 L62.1,202.0 L62.5,194.7 L63.0,187.4 L63.4,182.0 L63.8,183.3 L64.2,188.2 L64.5,189.9 L64.9,194.0 L65.4,197.6 L65.8,201.0 L66.2,202.6 L66.7,206.8 L67.1,209.1 L67.6,215.2 L68.0,216.0 L68.4,215.8 L68.8,215.5 L69.1,217.2 L69.5,218.0 L69.9,225.7 L70.2,234.5 L70.6,240.7 L71.0,249.0 L71.4,244.0 L71.8,235.3 L72.2,232.6 L72.6,229.8 L73.0,227.5 L73.3,221.8 L73.7,217.6 L74.1,214.2 L74.4,214.2 L74.8,219.9 L75.2,222.5 L75.5,223.4 L75.9,220.2 L76.3,219.1 L76.7,220.3 L77.0,214.6 L77.4,213.7 L77.8,213.8 L78.2,219.3 L78.7,221.3 L79.1,224.8 L79.6,229.0 L80.0,229.3 L80.4,228.9 L80.8,227.4 L81.2,230.8 L81.6,230.2 L82.0,230.8 L82.4,232.6 L82.8,237.0 L83.2,240.0 L83.6,240.4 L83.9,241.6 L84.3,246.3 L84.7,249.2 L85.1,251.0 L85.5,247.0 L85.9,246.4 L86.2,245.7 L86.6,245.3 L87.0,240.0 L87.4,238.5 L87.8,236.3 L88.2,235.3 L88.5,231.1 L88.9,228.8 L89.3,226.6 L89.7,225.2 L90.1,224.9 L90.5,226.2 L90.8,226.3 L91.2,225.7 L91.6,224.9 L92.0,225.2 L92.4,224.3 L92.8,225.3 L93.2,229.6 L93.5,230.6 L93.9,233.3 L94.3,234.5 L94.7,234.8 L95.1,234.5 L95.5,234.1 L95.9,236.5 L96.4,238.0 L96.8,238.9 L97.2,238.8 L97.6,240.8 L98.0,241.8 L98.4,241.2 L98.8,244.2 L99.2,244.6 L99.6,243.7 L100.0,245.9 L100.4,249.6 L100.8,249.0 L101.2,249.1 L101.6,251.4 L102.0,252.7 L102.4,252.9 L102.9,251.9 L103.3,252.4 L103.7,254.1 L104.1,254.3 L104.5,256.6 L104.9,256.3 L105.3,255.7 L105.7,253.9 L106.0,252.3 L106.4,252.9 L106.8,250.9 L107.2,251.0 L107.6,249.0 L108.0,246.3 L108.4,245.1 L108.8,241.8 L109.3,240.3 L109.7,241.0 L110.1,237.4 L110.5,236.0 L110.9,234.5 L111.4,235.6 L111.8,237.6 L112.2,239.7 L112.7,240.0 L113.1,242.1 L113.5,244.9 L113.9,247.3 L114.3,249.4 L114.7,250.2 L115.1,252.3 L115.5,254.7 L115.9,254.5 L116.3,253.3 L116.7,251.7 L117.1,251.0 L117.5,252.1 L117.9,250.9 L118.3,251.0 L118.7,249.1 L119.0,246.4 L119.4,245.9 L119.8,244.3 L120.1,243.6 L120.5,243.7 L120.9,245.9 L121.2,250.6 L121.6,251.1 L122.0,254.7 L122.4,256.3 L122.8,255.2 L123.2,255.9 L123.6,252.1 L124.0,250.0 L124.4,250.1 L124.8,248.6 L125.2,252.5 L125.6,251.0 L126.0,249.0 L126.4,251.3 L126.9,253.3 L127.3,251.4 L127.7,251.4 L128.1,251.9 L128.5,253.3 L128.9,250.3 L129.4,251.6 L129.8,251.0 L130.2,252.0 L130.6,252.2 L131.0,252.4 L131.4,254.5 L131.8,255.8 L132.2,253.9 L132.6,254.2 L133.0,251.1 L133.3,255.9 L133.7,254.6 L134.1,252.2 L134.5,251.6 L134.9,250.5 L135.4,249.7 L135.8,250.9 L136.3,252.3 L136.7,253.0 L137.1,254.7 L137.5,256.8 L137.9,260.2 L138.3,267.0 L138.6,272.8 L139.0,278.0 L139.4,280.1 L139.7,281.8 L140.1,283.0 L140.4,285.3 L140.8,285.0 L141.2,284.8 L141.6,286.5 L142.0,290.6 L142.4,289.4 L142.8,292.6 L143.2,292.1 L143.6,295.5 L144.0,298.4 L144.4,294.9 L144.8,291.9 L145.3,287.9 L145.7,285.0 L146.1,286.8 L146.4,287.5 L146.8,288.8 L147.1,289.1 L147.5,289.4 L147.9,287.8 L148.3,288.2 L148.7,287.9 L149.0,287.0 L149.4,286.3 L149.8,283.6 L150.2,286.0 L150.6,288.5 L151.0,288.5 L151.3,288.4 L151.7,291.3 L152.1,290.0 L152.5,291.6 L152.9,291.4 L153.4,290.4 L153.8,291.4 L154.3,289.9 L154.7,292.8 L155.1,292.9 L155.5,292.7 L155.8,295.0 L156.2,294.2 L156.6,294.5 L157.0,295.0 L157.4,293.0 L157.9,292.5 L158.3,289.1 L158.8,289.5 L159.2,289.4 L159.6,289.4 L160.0,289.6 L160.3,289.3 L160.7,287.1 L161.1,285.7 L161.5,285.0 L161.9,284.8 L162.4,286.4 L162.8,284.3 L163.3,286.4 L163.7,287.0 L164.1,288.6 L164.5,286.4 L164.9,286.3 L165.3,286.3 L165.8,285.9 L166.2,283.7 L166.6,284.2 L167.0,284.9 L167.4,285.3 L167.8,284.5 L168.2,285.3 L168.5,284.4 L168.9,284.3 L169.3,283.8 L169.7,277.8 L170.0,276.8 L170.4,271.4 L170.8,271.0 L171.2,270.3 L171.6,269.1 L171.9,268.7 L172.3,267.2 L172.7,267.0 L173.1,265.6 L173.5,267.7 L173.8,266.5 L174.2,263.1 L174.6,267.1 L175.0,265.8 L175.4,266.0 L175.9,265.1 L176.3,263.9 L176.8,263.3 L177.2,260.2 L177.6,258.6 L177.9,255.8 L178.3,255.7 L178.7,251.4 L179.1,249.7 L179.4,248.5 L179.8,243.1 L180.2,240.6 L180.6,237.7 L181.0,236.1 L181.3,236.3 L181.7,237.0 L182.1,235.5 L182.4,238.0 L182.8,240.0 L183.2,236.7 L183.6,235.9 L184.0,233.2 L184.4,233.4 L184.9,234.1 L185.3,236.2 L185.8,238.6 L186.2,240.0 L186.6,239.2 L186.9,233.0 L187.3,233.3 L187.7,231.2 L188.0,227.4 L188.4,226.5 L188.8,223.2 L189.3,216.1 L189.8,210.1 L190.2,206.2 L190.6,210.1 L191.0,210.5 L191.4,213.6 L191.8,217.5 L192.2,216.4 L192.7,215.1 L193.1,210.4 L193.6,209.0 L194.0,208.5 L194.4,209.6 L194.8,214.6 L195.2,215.6 L195.5,220.9 L195.9,225.7 L196.3,226.5 L196.7,225.1 L197.2,224.2 L197.6,224.9 L198.1,223.8 L198.5,224.2 L198.9,221.9 L199.3,217.0 L199.7,212.5 L200.1,211.9 L200.5,211.7 L200.9,212.8 L201.3,216.2 L201.8,216.9 L202.2,218.2 L202.6,219.0 L203.0,222.0 L203.4,221.2 L203.8,222.7 L204.1,223.4 L204.5,220.0 L204.9,221.3 L205.3,220.1 L205.6,221.7 L206.0,219.8 L206.4,219.7 L206.8,223.3 L207.2,221.0 L207.5,220.7 L207.9,225.7 L208.3,220.9 L208.7,223.3 L209.0,222.7 L209.4,223.5 L209.8,223.0 L210.2,227.0 L210.5,233.9 L210.9,235.4 L211.3,237.1 L211.7,233.4 L212.0,236.8 L212.4,237.8 L212.8,240.5 L213.2,235.0 L213.5,235.3 L213.9,236.8 L214.3,237.7 L214.7,237.8 L215.1,240.3 L215.5,241.4 L215.9,240.3 L216.4,241.9 L216.8,242.6 L217.2,241.5 L217.6,242.2 L218.0,240.0 L218.4,237.9 L218.8,235.8 L219.1,233.6 L219.5,228.2 L219.9,227.6 L220.3,228.4 L220.8,227.2 L221.2,229.6 L221.7,228.8 L222.1,229.8 L222.6,230.1 L223.1,231.1 L223.5,232.7 L223.9,234.5 L224.3,237.4 L224.7,238.4 L225.1,239.3 L225.6,242.8 L226.1,245.4 L226.5,242.9 L226.9,243.6 L227.4,243.0 L227.8,241.2 L228.2,241.3 L228.6,244.9 L228.9,242.0 L229.3,245.4 L229.7,249.2 L230.1,246.8 L230.4,248.5 L230.8,245.2 L231.2,249.5 L231.6,248.5 L232.0,248.0 L232.5,245.9 L232.9,242.2 L233.3,243.4 L233.7,244.5 L234.1,245.0 L234.5,247.4 L234.9,247.7 L235.3,246.5 L235.7,243.9 L236.1,238.1 L236.6,236.6 L237.0,237.4 L237.4,235.2 L237.8,232.8 L238.2,230.0 L238.6,229.0 L239.0,230.1 L239.4,232.1 L239.8,232.7 L240.2,231.4 L240.7,228.9 L241.1,229.9 L241.5,228.0 L241.9,227.9 L242.3,226.6 L242.7,225.3 L243.1,224.3 L243.5,224.0 L243.9,223.8 L244.3,223.4 L244.8,220.7 L245.2,220.9 L245.6,222.0 L246.0,221.4 L246.4,221.7 L246.8,222.2 L247.2,223.0 L247.6,224.0 L248.0,226.3 L248.4,228.5 L248.9,226.2 L249.3,227.2 L249.7,229.0 L250.0,231.4 L250.4,235.0 L250.8,237.2 L251.1,239.3 L251.5,252.5 L251.9,260.5 L252.3,269.0 L252.8,267.0 L253.2,261.6 L253.7,257.7 L254.1,258.4 L254.5,254.1 L255.0,254.1 L255.4,252.2 L255.8,250.6 L256.2,248.9 L256.6,247.4 L257.0,246.2 L257.4,248.3 L257.7,246.9 L258.1,247.2 L258.5,244.8 L258.9,245.4 L259.3,244.2 L259.7,246.3 L260.1,245.2 L260.5,246.9 L260.9,247.5 L261.3,244.9 L261.7,241.6 L262.1,237.6 L262.5,234.4 L262.9,233.2 L263.3,232.7 L263.7,231.3 L264.1,230.9 L264.6,229.0 L265.0,225.1 L265.4,224.0 L265.8,225.0 L266.2,225.2 L266.6,225.8 L267.0,228.4 L267.4,231.1 L267.8,230.3 L268.2,228.0 L268.6,225.3 L269.0,225.9 L269.5,226.4 L269.9,225.8 L270.3,223.9 L270.7,223.0 L271.1,224.0 L271.5,224.1 L271.9,221.1 L272.4,227.0 L272.8,227.9 L273.2,227.0 L273.6,228.0 L273.9,226.4 L274.3,227.7 L274.7,228.0 L275.1,229.0 L275.4,228.9 L275.8,229.8 L276.2,228.0 L276.6,227.8 L277.0,227.7 L277.4,227.4 L277.8,229.2 L278.1,227.5 L278.5,229.0 L278.9,229.9 L279.3,229.0 L279.7,227.6 L280.1,227.6 L280.5,227.8 L280.9,228.7 L281.2,228.2 L281.6,225.4 L282.0,229.3 L282.4,228.0 L282.8,225.7 L283.1,223.7 L283.5,219.3 L283.9,218.3 L284.3,216.3 L284.6,212.2 L285.0,212.7 L285.4,214.2 L285.8,214.7 L286.2,215.7 L286.6,216.8 L286.9,215.7 L287.3,213.9 L287.7,213.5 L288.1,212.7 L288.5,210.7 L288.9,209.1 L289.3,208.7 L289.7,211.9 L290.1,212.8 L290.4,214.9 L290.8,211.3 L291.2,211.0 L291.6,212.7 L292.0,216.2 L292.4,219.4 L292.8,221.6 L293.2,221.9 L293.6,221.6 L294.0,221.2 L294.4,222.7 L294.9,220.5 L295.3,218.7 L295.7,218.9 L296.1,219.3 L296.5,218.7 L296.9,219.7 L297.3,219.8 L297.7,219.9 L298.1,219.4 L298.5,217.4 L298.9,218.1 L299.2,216.8 L299.6,217.3 L300.0,217.7 L300.4,217.7 L300.8,217.8 L301.2,216.7 L301.6,215.5 L302.0,213.1 L302.4,212.7 L302.8,212.7 L303.2,213.0 L303.6,209.8 L304.1,207.1 L304.5,206.3 L304.9,204.5 L305.3,202.0 L305.6,203.8 L306.0,202.6 L306.4,202.3 L306.8,201.3 L307.1,197.7 L307.5,198.5 L307.9,196.4 L308.3,196.6 L308.6,195.9 L309.0,193.8 L309.4,189.1 L309.7,186.4 L310.1,186.6 L310.5,187.3 L310.9,185.7 L311.2,182.1 L311.6,183.7 L312.0,180.3 L312.4,178.8 L312.8,180.1 L313.1,177.7 L313.5,179.3 L313.9,181.1 L314.2,181.9 L314.6,181.0 L315.0,179.3 L315.4,180.9 L315.8,179.6 L316.2,178.8 L316.6,176.6 L316.9,174.2 L317.3,172.6 L317.6,167.6 L318.0,166.4 L318.4,163.1 L318.9,160.1 L319.3,155.4 L319.8,156.0 L320.2,152.9 L320.6,148.6 L321.0,144.3 L321.4,141.2 L321.7,136.9 L322.1,132.9 L322.5,129.3 L322.9,132.5 L323.2,130.9 L323.6,133.0 L323.9,133.2 L324.3,133.8 L324.8,135.0 L325.2,140.6 L325.6,144.3 L325.9,144.0 L326.3,146.1 L326.6,147.8 L327.0,147.3 L327.4,145.2 L327.7,143.7 L328.1,138.7 L328.4,137.4 L328.8,134.9 L329.2,130.4 L329.6,124.7 L329.9,121.1 L330.3,119.2 L330.7,117.1 L331.1,116.3 L331.5,116.8 L331.8,116.2 L332.2,118.4 L332.6,117.0 L333.0,113.2 L333.3,109.4 L333.7,105.7 L334.1,111.0 L334.4,111.5 L334.8,113.8 L335.1,116.5 L335.5,119.2 L335.9,114.7 L336.3,110.2 L336.6,109.0 L337.0,106.2 L337.4,103.0 L337.8,101.2 L338.2,101.6 L338.7,102.3 L339.1,107.4 L339.6,107.6 L340.0,111.3 L340.4,110.0 L340.8,108.8 L341.2,108.4 L341.5,108.0 L341.9,104.0 L342.3,103.7 L342.7,102.4 L343.1,101.6 L343.5,102.5 L343.9,102.0 L344.4,101.1 L344.8,99.4 L345.2,98.8 L345.6,99.0 L346.0,103.4 L346.4,106.7 L346.8,109.7 L347.2,112.4 L347.6,114.7 L348.1,111.3 L348.5,108.0 L348.9,104.5 L349.4,104.6 L349.8,105.1 L350.2,104.2 L350.5,105.3 L350.9,105.7 L351.3,106.1 L351.7,105.7 L352.1,108.5 L352.6,114.2 L353.0,119.2 L353.5,127.1 L353.9,130.4 L354.3,132.0 L354.6,134.8 L355.0,134.6 L355.3,134.6 L355.7,137.2 L356.1,135.4 L356.5,139.3 L356.9,138.2 L357.2,139.8 L357.6,141.1 L358.0,139.4 L358.4,136.8 L358.8,135.6 L359.2,133.5 L359.6,131.4 L360.0,129.3 L360.4,132.6 L360.7,134.4 L361.1,138.7 L361.4,139.7 L361.8,140.6 L362.2,139.3 L362.5,136.3 L362.9,139.0 L363.2,138.2 L363.6,137.2 L364.0,139.9 L364.4,142.1 L364.8,141.8 L365.1,144.4 L365.5,143.1 L365.9,144.0 L366.3,143.9 L366.7,145.0 L367.0,144.8 L367.4,145.9 L367.7,145.7 L368.1,148.4 L368.5,143.5 L368.9,138.3 L369.3,136.4 L369.7,134.9 L370.1,136.4 L370.6,135.7 L371.0,130.9 L371.5,126.2 L371.9,123.7 L372.3,121.5 L372.7,120.3 L373.0,119.8 L373.4,119.5 L373.8,119.4 L374.2,117.0 L374.6,115.3 L375.0,116.5 L375.4,118.9 L375.9,114.7 L376.3,117.4 L376.7,117.1 L377.1,119.7 L377.5,118.1 L377.9,116.9 L378.3,113.0 L378.6,111.3 L379.0,110.8 L379.4,112.0 L379.8,111.3 L380.2,114.7 L380.6,118.0 L380.9,119.5 L381.3,120.3 L381.7,121.9 L382.1,122.1 L382.5,123.5 L382.8,126.7 L383.2,128.7 L383.6,128.2 L384.0,124.2 L384.4,123.2 L384.8,118.8 L385.3,115.8 L385.7,112.3 L386.1,109.3 L386.5,108.0 L386.9,105.6 L387.4,104.3 L387.8,101.6 L388.2,105.7 L388.6,102.9 L389.0,103.7 L389.5,98.1 L389.9,97.9 L390.3,96.6 L390.7,98.3 L391.0,97.5 L391.4,101.2 L391.8,101.6 L392.2,101.9 L392.6,98.7 L393.0,95.9 L393.4,95.0 L393.7,95.1 L394.1,95.7 L394.5,94.7 L394.9,94.4 L395.3,100.3 L395.7,97.8 L396.0,100.1 L396.4,101.0 L396.8,102.4 L397.2,104.1 L397.6,104.0 L398.1,101.4 L398.5,102.1 L399.0,103.9 L399.4,106.3 L399.8,107.0 L400.1,106.8 L400.5,110.0 L400.8,112.4 L401.2,114.2 L401.6,115.7 L402.0,116.0 L402.4,117.9 L402.7,117.4 L403.1,114.4 L403.5,118.7 L403.9,118.4 L404.3,118.2 L404.7,117.5 L405.0,118.2 L405.4,117.7 L405.8,115.5 L406.2,113.1 L406.6,115.0 L407.1,117.4 L407.5,117.2 L408.0,120.4 L408.4,123.2 L408.8,125.5 L409.2,124.9 L409.6,124.5 L410.1,124.7 L410.5,123.6 L410.9,125.7 L411.3,128.8 L411.7,129.8 L412.1,136.4 L412.5,137.8 L412.9,137.7 L413.4,135.4 L413.8,133.2 L414.3,132.2 L414.7,130.0 L415.1,127.9 L415.5,128.4 L415.9,126.8 L416.2,125.3 L416.6,123.4 L417.0,123.2 L417.4,123.8 L417.7,126.2 L418.1,128.5 L418.4,130.9 L418.8,133.3 L419.2,131.2 L419.7,127.8 L420.1,128.1 L420.6,125.3 L421.0,122.1 L421.4,124.8 L421.8,123.1 L422.1,126.2 L422.5,127.9 L422.9,130.9 L423.3,131.0 L423.7,128.7 L424.2,128.8 L424.6,125.6 L425.1,126.9 L425.5,126.6 L425.9,124.5 L426.3,123.9 L426.7,122.8 L427.0,119.1 L427.4,120.7 L427.8,120.8 L428.2,118.3 L428.6,120.4 L429.0,123.0 L429.3,123.3 L429.7,124.7 L430.1,124.5 L430.5,125.0 L430.8,125.8 L431.2,127.3 L431.6,128.8 L432.0,131.0 L432.4,131.1 L432.8,129.0 L433.2,129.7 L433.7,129.7 L434.1,130.0 L434.5,130.6 L434.9,130.0 L435.3,131.1 L435.6,129.6 L436.0,130.7 L436.3,129.5 L436.7,133.3 L437.1,135.1 L437.5,143.2 L437.9,147.1 L438.3,150.2 L438.7,147.6 L439.1,150.6 L439.5,149.6 L439.8,149.7 L440.2,150.5 L440.6,151.3 L441.0,152.8 L441.4,150.2 L441.8,150.7 L442.3,150.9 L442.7,148.9 L443.1,148.6 L443.5,145.7 L443.9,144.4 L444.3,148.6 L444.7,148.4 L445.1,150.2 L445.5,155.7 L446.0,161.7 L446.4,167.9 L446.9,173.2 L447.3,178.3 L447.7,177.6 L448.1,177.3 L448.5,174.4 L448.8,172.6 L449.2,173.9 L449.6,172.6 L450.0,173.8 L450.5,173.6 L450.9,175.8 L451.4,177.4 L451.8,177.1 L452.2,176.8 L452.6,175.3 L453.1,172.9 L453.5,170.6 L453.9,169.5 L454.4,168.3 L454.8,169.6 L455.2,165.9 L455.6,164.2 L456.1,164.6 L456.5,166.2 L457.0,166.0 L457.4,167.0 L457.8,167.7 L458.2,167.9 L458.5,168.6 L458.9,167.6 L459.3,167.8 L459.7,165.7 L460.0,164.5 L460.4,164.6 L460.8,163.2 L461.2,163.5 L461.7,168.0 L462.1,167.4 L462.6,169.8 L463.0,172.6 L463.4,172.4 L463.8,174.1 L464.1,172.2 L464.5,172.8 L464.9,175.9 L465.3,177.1 L465.7,174.8 L466.2,173.1 L466.6,174.1 L467.1,170.8 L467.5,169.3 L467.9,168.7 L468.3,170.3 L468.6,174.1 L469.0,175.7 L469.4,178.7 L469.8,180.5 L470.2,179.0 L470.6,181.3 L471.0,179.2 L471.5,176.5 L471.9,179.1 L472.3,177.1 L472.7,177.1 L473.1,177.2 L473.5,176.9 L473.8,179.0 L474.2,179.3 L474.6,182.3 L475.0,177.1 L475.4,176.6 L475.7,177.8 L476.1,178.4 L476.5,178.3 L476.9,177.7 L477.4,177.3 L477.8,173.4 L478.2,173.4 L478.6,175.0 L479.0,174.8 L479.5,174.0 L479.9,172.6 L480.3,179.2 L480.7,182.5 L481.1,189.1 L481.5,189.9 L481.9,188.3 L482.2,189.9 L482.6,189.8 L483.0,189.4 L483.4,191.4 L483.8,191.0 L484.1,187.4 L484.5,191.8 L484.9,191.0 L485.2,189.8 L485.6,188.0 L486.0,188.9 L486.4,189.4 L486.8,185.0 L487.1,187.0 L487.5,185.7 L487.9,186.8 L488.3,185.2 L488.7,185.9 L489.1,185.5 L489.5,184.6 L489.9,184.5 L490.2,186.2 L490.6,185.7 L490.9,186.9 L491.3,189.1 L491.7,188.1 L492.1,189.8 L492.5,189.1 L493.0,188.1 L493.4,190.1 L493.8,188.9 L494.2,189.8 L494.6,188.0 L495.0,183.2 L495.4,182.1 L495.8,178.5 L496.2,173.3 L496.6,172.8 L496.9,171.8 L497.3,169.5 L497.6,166.6 L498.0,167.7 L498.4,167.1 L498.8,169.1 L499.2,166.0 L499.5,165.7 L499.9,165.7 L500.3,165.4 L500.7,165.5 L501.1,165.3 L501.4,166.3 L501.8,166.6 L502.1,168.9 L502.5,170.0 L502.9,169.0 L503.3,167.7 L503.7,165.1 L504.0,161.6 L504.4,163.4 L504.8,163.0 L505.2,162.1 L505.6,164.3 L506.0,161.2 L506.4,163.9 L506.7,162.1 L507.1,165.4 L507.5,166.6 L507.9,168.9 L508.2,169.2 L508.6,172.5 L508.9,174.4 L509.3,175.6 L509.7,170.2 L510.0,166.7 L510.4,161.0 L510.7,157.1 L511.1,155.3 L511.5,154.8 L511.9,152.9 L512.3,154.5 L512.6,154.7 L513.0,153.6 L513.4,153.7 L513.8,154.2 L514.2,154.3 L514.6,154.4 L514.9,155.3 L515.3,152.8 L515.7,152.1 L516.1,152.2 L516.4,149.6 L516.8,151.9 L517.2,148.6 L517.6,149.6 L518.1,152.4 L518.5,154.5 L519.0,153.9 L519.4,155.3 L519.8,153.8 L520.2,153.4 L520.5,152.2 L520.9,151.4 L521.3,151.4 L521.7,150.8 L522.1,153.2 L522.5,150.7 L522.9,152.7 L523.4,153.0 L523.8,152.8 L524.2,152.6 L524.6,155.1 L525.0,155.3 L525.4,154.2 L525.9,156.0 L526.3,155.1 L526.7,156.8 L527.1,159.1 L527.5,159.1 L528.0,157.0 L528.4,156.4 L528.8,160.1 L529.2,159.5 L529.5,158.8 L529.9,159.1 L530.3,159.1 L530.7,158.7 L531.1,159.4 L531.6,161.7 L532.0,162.5 L532.5,161.5 L532.9,160.9 L533.3,156.3 L533.7,151.2 L534.1,148.6 L534.5,148.9 L534.9,149.6 L535.3,149.1 L535.8,148.5 L536.2,149.3 L536.6,148.4 L537.0,149.4 L537.4,147.4 L537.8,145.7 L538.2,147.7 L538.5,146.8 L538.9,144.5 L539.3,147.6 L539.7,148.6 L540.1,149.1 L540.5,147.8 L540.9,149.6 L541.4,148.9 L541.8,149.8 L542.2,149.8 L542.6,151.2 L543.0,150.4 L543.4,150.9 L543.9,150.7 L544.3,151.0 L544.7,151.1 L545.1,152.8 L545.5,150.1 L546.0,149.4 L546.4,150.8 L546.8,152.6 L547.2,156.2 L547.6,158.7 L548.0,160.8 L548.4,161.2 L548.8,160.5 L549.2,157.1 L549.7,158.2 L550.1,159.9 L550.5,160.6 L550.9,157.6 L551.3,157.5 L551.7,155.6 L552.0,157.7 L552.4,157.9 L552.8,158.0 L553.2,159.8 L553.6,161.3 L554.1,159.1 L554.5,155.7 L554.9,158.3 L555.3,157.8 L555.8,158.0 L556.2,156.5 L556.6,156.4 L557.0,156.4 L557.4,158.0 L557.8,155.7 L558.1,157.8 L558.5,155.6 L558.9,157.2 L559.3,155.3 L559.7,153.8 L560.0,152.8 L560.4,154.1 L560.8,154.2 L561.1,153.4 L561.5,155.3 L561.9,152.8 L562.3,152.2 L562.6,148.0 L563.0,146.4 L563.4,140.3 L563.8,139.5 L564.2,140.4 L564.6,140.6 L565.0,141.1 L565.5,140.1 L565.9,138.8 L566.3,139.9 L566.7,137.3 L567.1,138.4 L567.5,137.1 L567.9,138.5 L568.4,135.6 L568.8,138.2 L569.2,136.8 L569.6,135.0 L570.0,133.7 L570.4,135.3 L570.8,134.4 L571.2,133.9 L571.6,133.4 L572.0,130.5 L572.4,131.6 L572.7,127.2 L573.1,125.8 L573.5,123.8 L573.9,123.8 L574.3,123.7 L574.7,123.7 L575.2,123.6 L575.6,124.4 L576.0,125.8 L576.4,124.9 L576.8,123.5 L577.2,122.2 L577.6,124.4 L577.9,123.4 L578.3,124.4 L578.7,122.3 L579.1,123.3 L579.5,123.2 L579.9,120.0 L580.2,121.7 L580.6,122.0 L581.0,118.9 L581.4,119.3 L581.8,117.0 L582.1,119.8 L582.5,123.4 L582.8,124.7 L583.2,124.9 L583.6,126.2 L584.0,124.8 L584.3,127.4 L584.7,129.4 L585.1,127.5 L585.5,128.0 L585.9,128.1 L586.3,125.4 L586.7,125.2 L587.1,122.1 L587.5,123.6 L587.9,119.8 L588.3,119.5 L588.7,117.1 L589.1,115.5 L589.5,112.9 L589.9,112.5 L590.3,113.5 L590.7,111.4 L591.1,112.8 L591.5,111.6 L592.0,112.8 L592.4,111.4 L592.8,110.4 L593.2,104.1 L593.6,101.3 L594.0,97.5 L594.4,94.7 L594.7,93.1 L595.1,92.6 L595.6,92.9 L596.0,89.0 L596.5,89.3 L596.9,93.1 L597.4,94.4 L597.8,97.5 L598.2,98.1 L598.6,93.1 L599.0,92.6 L599.4,92.6 L599.8,93.6 L600.2,93.4 L600.6,92.4 L601.0,90.9 L601.4,88.7 L601.8,89.3 L602.2,89.2 L602.6,88.5 L603.0,90.9 L603.4,90.5 L603.8,95.7 L604.2,95.2 L604.6,98.3 L605.0,98.4 L605.5,99.3 L605.9,99.9 L606.3,101.2 L606.7,99.1 L607.1,97.5 L607.5,99.3 L607.9,100.1 L608.3,100.9 L608.7,103.2 L609.1,103.3 L609.5,101.4 L610.0,98.8 L610.4,99.1 L610.8,97.5 L611.2,95.7 L611.6,95.8 L612.0,92.6 L612.4,93.1 L612.8,92.3 L613.2,91.0 L613.6,90.9 L614.0,90.4 L614.5,91.8 L614.9,93.4 L615.3,93.4 L615.7,94.3 L616.1,89.6 L616.5,91.2 L616.9,91.7 L617.3,92.2 L617.7,92.7 L618.1,96.3 L618.6,95.8 L619.0,94.9 L619.4,96.6 L619.8,98.2 L620.2,97.2 L620.6,98.2 L621.0,99.9 L621.4,102.4 L621.8,100.6 L622.2,101.3 L622.6,101.2 L623.0,101.6 L623.4,103.2 L623.9,104.5 L624.3,106.5 L624.7,104.2 L625.1,101.9 L625.5,100.3 L625.9,99.1 L626.3,96.4 L626.7,95.8 L627.1,93.4 L627.5,94.0 L627.9,93.4 L628.3,94.4 L628.7,94.2 L629.1,94.6 L629.5,95.8 L629.9,99.4 L630.4,101.9 L630.8,105.1 L631.2,108.1 L631.6,106.7 L632.0,106.2 L632.4,103.7 L632.8,102.4 L633.2,99.1 L633.5,100.3 L633.9,100.7 L634.3,99.6 L634.7,98.6 L635.0,100.2 L635.4,98.3 L635.8,98.9 L636.2,100.1 L636.6,103.6 L637.0,104.0 L637.4,103.8 L637.9,107.3 L638.3,108.7 L638.7,108.1 L639.1,107.3 L639.5,104.3 L639.8,103.5 L640.2,104.5 L640.6,101.6 L641.0,100.8 L641.4,101.3 L641.9,100.2 L642.3,98.0 L642.7,94.8 L643.1,96.6 L643.5,98.1 L643.9,96.8 L644.3,98.1 L644.7,99.1 L645.1,98.8 L645.5,101.4 L646.0,102.3 L646.4,101.6 L646.8,100.8 L647.2,99.3 L647.6,94.1 L648.0,94.2 L648.4,93.7 L648.8,93.0 L649.2,93.2 L649.7,93.7 L650.1,94.4 L650.5,93.4 L650.9,90.2 L651.3,89.9 L651.7,90.7 L652.1,89.3 L652.5,86.4 L653.0,85.0 L653.4,82.7 L653.8,79.5 L654.1,75.4 L654.5,77.1 L654.9,75.1 L655.4,72.0 L655.8,71.6 L656.2,69.6 L656.6,70.0 L657.0,72.0 L657.5,72.8 L657.9,70.6 L658.3,70.5 L658.7,69.5 L659.1,71.5 L659.6,70.7 L660.0,68.0 L660.4,68.4 L660.8,68.4 L661.2,68.3 L661.6,66.4 L662.0,65.8 L662.3,64.0 L662.7,63.9 L663.1,64.0 L663.5,65.3 L664.0,69.9 L664.4,70.5 L664.8,70.0 L665.2,70.9 L665.6,69.1 L666.0,71.3 L666.4,70.8 L666.9,71.0 L667.3,73.3 L667.7,72.9 L668.1,72.6 L668.5,69.4 L668.9,68.6 L669.3,68.0 L669.7,65.3 L670.1,63.2 L670.5,62.8 L670.9,63.9 L671.3,62.3 L671.8,61.0 L672.2,63.2 L672.6,66.4 L673.0,66.2 L673.4,66.3 L673.8,67.6 L674.2,69.6 L674.6,68.6 L675.0,70.7 L675.5,70.4 L675.9,73.0 L676.3,71.5 L676.7,70.5 L677.1,70.5 L677.4,68.7 L677.8,69.5 L678.2,71.6 L678.6,71.0 L679.1,71.6 L679.5,72.0 L679.8,77.5 L680.1,79.4 L680.5,79.2 L680.8,77.8 L681.2,76.6 L681.6,79.2 L681.9,82.4 L682.3,83.3 L682.7,78.2 L683.1,81.7 L683.6,80.5 L684.0,78.8 L684.4,78.4 L684.9,77.7 L685.3,78.2 L685.7,77.1 L686.1,77.6 L686.5,77.5 L687.0,77.8 L687.4,79.4 L687.8,79.8 L688.2,80.2 L688.7,82.4 L689.1,85.6 L689.5,82.1 L689.8,81.5 L690.2,79.4 L690.6,78.9 L691.0,77.6 L691.5,79.7 L691.9,78.8 L692.3,78.2 L692.6,75.3 L693.0,72.0 L693.4,72.2 L693.9,72.4 L694.3,72.2 L694.7,70.4 L695.1,71.0 L695.5,67.2 L696.0,67.3 L696.4,65.3 L696.8,64.5 L697.2,62.0 L697.7,64.2 L698.1,64.2 L698.6,62.7 L699.0,62.4 L699.5,60.8 L700.0,60.0 L700.4,60.6 L700.9,63.1 L701.3,65.6 L701.8,63.9 L702.2,64.8 L702.6,65.9 L703.1,66.3 L703.5,64.4 L704.0,61.4 L704.5,62.5 L704.9,60.7 L705.4,64.2 L705.8,65.1 L706.3,66.2 L706.7,66.4 L707.1,63.8 L707.5,64.0 L707.8,64.5 L708.2,63.1 L708.6,63.7 L709.0,65.2 L709.5,63.4 L709.9,61.9 L710.3,62.0 L710.8,59.4 L711.2,57.4 L711.6,56.3 L712.0,56.0 L712.4,55.8 L712.8,55.7 L713.2,55.7 L713.7,55.7 L714.1,55.5 L714.5,55.6 L715.0,56.3 L715.4,57.8 L715.8,57.0 L716.2,57.9 L716.6,59.1 L717.0,55.9 L717.4,56.0 L717.8,53.8 L718.1,53.5 L718.5,53.8 L718.9,54.1 L719.3,53.4 L719.8,55.7 L720.2,55.1 L720.6,57.4 L721.0,57.5 L721.5,59.5 L721.9,60.3 L722.4,60.6 L722.8,61.4 L723.2,61.1 L723.6,58.0 L724.1,58.9 L724.5,59.7 L724.9,59.3 L725.2,58.8 L725.6,59.4 L726.0,58.9 L726.3,58.2 L726.7,56.9 L727.2,57.8 L727.6,55.5 L728.1,58.0 L728.5,58.8 L728.9,60.8 L729.2,60.3 L729.6,61.4 L730.0,59.8 L730.4,58.3 L730.8,54.6 L731.2,52.9 L731.6,55.4 L732.0,53.5 L732.4,54.6 L732.8,58.1 L733.1,59.8 L733.5,60.8 L733.9,59.7 L734.4,60.5 L734.8,59.5 L735.2,59.7 L735.6,62.8 L735.9,63.5 L736.3,63.6 L736.7,63.4 L737.0,60.1 L737.4,59.1 L737.8,61.4 L738.2,61.1 L738.7,63.9 L739.1,63.6 L739.5,64.5 L739.8,64.8 L740.2,67.0 L740.6,68.8 L741.0,70.9 L741.5,72.1 L741.9,74.9 L742.3,77.4 L742.7,78.3 L743.1,78.8 L743.5,75.1 L743.8,76.4 L744.2,74.9 L744.6,75.4 L745.0,73.1 L745.5,71.8 L745.9,72.6 L746.3,73.5 L746.8,72.6 L747.2,74.2 L747.6,74.9 L748.0,75.7 L748.4,78.7 L748.8,75.5 L749.2,78.2 L749.6,77.7 L750.0,78.3 L750.5,78.6 L750.9,76.6 L751.3,76.8 L751.8,76.9 L752.2,75.5 L752.6,76.0 L753.0,74.2 L753.3,73.7 L753.7,72.6 L754.1,71.1 L754.5,71.3 L755.0,70.4 L755.4,69.8 L755.8,73.0 L756.2,73.5 L756.6,76.0" fill="none" stroke="#00a83e" stroke-width="2.1" stroke-linejoin="round" stroke-linecap="round"/><rect x="61" y="470" width="1" height="9" fill="#e6e9ee"/><rect x="147" y="470" width="1" height="9" fill="#e6e9ee"/><rect x="234" y="470" width="1" height="9" fill="#e6e9ee"/><rect x="320" y="470" width="1" height="9" fill="#e6e9ee"/><rect x="406" y="470" width="1" height="9" fill="#e6e9ee"/><rect x="492" y="470" width="1" height="9" fill="#e6e9ee"/><rect x="579" y="470" width="1" height="9" fill="#e6e9ee"/><rect x="665" y="470" width="1" height="9" fill="#e6e9ee"/><rect x="751" y="470" width="1" height="9" fill="#e6e9ee"/><text x="772.57 779.30 786.93 794.43 801.22" y="20.00" font-family="Liberation Sans" font-size="12" fill="#606977">$200K</text><path d="M781.70,58.70 L782.80,58.70 L782.80,67.00 L781.70,67.00 L781.70,60.60 L779.90,61.70 L779.90,60.60 Z" fill="#606977" fill-opacity="0.9"/><text x="772.57 784.43 791.93 798.72" y="67.00" font-family="Liberation Sans" font-size="12" fill="#606977">$00K</text><text x="772.57 779.63 786.93 793.72" y="129.00" font-family="Liberation Sans" font-size="12" fill="#606977">$40K</text><text x="772.57 779.30 786.93 793.72" y="175.00" font-family="Liberation Sans" font-size="12" fill="#606977">$20K</text><path d="M781.70,213.70 L782.80,213.70 L782.80,222.00 L781.70,222.00 L781.70,215.60 L779.90,216.70 L779.90,215.60 Z" fill="#606977" fill-opacity="0.9"/><text x="772.57 784.43 791.22" y="222.00" font-family="Liberation Sans" font-size="12" fill="#606977">$0K</text><text x="772.57 779.63 786.22" y="284.00" font-family="Liberation Sans" font-size="12" fill="#606977">$4K</text><text x="772.57 779.30 786.22" y="331.00" font-family="Liberation Sans" font-size="12" fill="#606977">$2K</text><path d="M781.70,369.70 L782.80,369.70 L782.80,378.00 L781.70,378.00 L781.70,371.60 L779.90,372.70 L779.90,371.60 Z" fill="#606977" fill-opacity="0.9"/><text x="772.57 783.92" y="378.00" font-family="Liberation Sans" font-size="12" fill="#606977">$K</text><path d="M72.14,479.70 L73.24,479.70 L73.24,488.00 L72.14,488.00 L72.14,481.60 L70.34,482.70 L70.34,481.60 Z" fill="#606977" fill-opacity="0.9"/><text x="43.95 49.83 56.54 67.13 74.11" y="488.00" font-family="Liberation Sans" font-size="12" fill="#606977">Jan&#39;8</text><path d="M158.15,479.70 L159.25,479.70 L159.25,488.00 L158.15,488.00 L158.15,481.60 L156.35,482.70 L156.35,481.60 Z" fill="#606977" fill-opacity="0.9"/><text x="129.96 135.84 142.55 153.14 160.15" y="488.00" font-family="Liberation Sans" font-size="12" fill="#606977">Jan&#39;9</text><text x="215.34 221.22 227.93 238.52 241.13 248.66" y="488.00" font-family="Liberation Sans" font-size="12" fill="#606977">Jan&#39;20</text><path d="M338.35,479.70 L339.45,479.70 L339.45,488.00 L338.35,488.00 L338.35,481.60 L336.55,482.70 L336.55,481.60 Z" fill="#606977" fill-opacity="0.9"/><text x="302.76 308.64 315.35 325.94 328.55" y="488.00" font-family="Liberation Sans" font-size="12" fill="#606977">Jan&#39;2</text><text x="387.48 393.35 400.07 410.66 413.26 420.66" y="488.00" font-family="Liberation Sans" font-size="12" fill="#606977">Jan&#39;22</text><text x="473.41 479.29 486.00 496.59 499.20 506.70" y="488.00" font-family="Liberation Sans" font-size="12" fill="#606977">Jan&#39;23</text><text x="560.19 566.07 572.78 583.37 585.97 593.70" y="488.00" font-family="Liberation Sans" font-size="12" fill="#606977">Jan&#39;24</text><text x="646.37 652.25 658.96 669.55 672.15 679.68" y="488.00" font-family="Liberation Sans" font-size="12" fill="#606977">Jan&#39;25</text><text x="732.44 738.32 745.03 755.62 758.23 765.62" y="488.00" font-family="Liberation Sans" font-size="12" fill="#606977">Jan&#39;26</text><g><circle cx="658" cy="351.2" r="11" fill="#fbebb0"/><path d="M649.4,357.5 C649.6,353 649.8,349 651.5,347 C653.5,345.2 657,344.9 660,345.5 C662.5,346.2 664.5,347.6 666.3,348.6 C667,350 665.5,352.5 663,355 C661,357 660.2,359.5 660,362 C655,362.5 651.5,360.5 649.4,357.5 Z" fill="#a0e07a"/><circle cx="656.4" cy="348.6" r="2" fill="#ffffff"/><circle cx="657.1" cy="348.6" r="1.1" fill="#555a66"/><text x="676.6" y="354.8" font-family="Liberation Sans" font-weight="bold" font-size="13.6" textLength="70" lengthAdjust="spacingAndGlyphs" fill="#4a4a4a" opacity="0.7">coingecko</text></g><g><path d="M690.4,385.5 L694,382 L697.6,385.5 Z" fill="#34c85a"/><path d="M697.6,385.5 L701.2,382 L704.8000000000001,385.5 Z" fill="#34c85a"/><path d="M705.0,385.5 L708.6,382 L712.2,385.5 Z" fill="#34c85a"/><path d="M712.4,385.5 L716,382 L719.6,385.5 Z" fill="#34c85a"/><path d="M719.4,385.5 L723,382 L726.6,385.5 Z" fill="#34c85a"/><path d="M726.4,385.5 L730,382 L733.6,385.5 Z" fill="#34c85a"/><path d="M729.6999999999999,385.5 L733.3,382 L736.9,385.5 Z" fill="#34c85a"/><rect x="675" y="384.8" width="76.3" height="19" rx="3.5" fill="#34c85a"/><rect x="678.3" y="390.5" width="1.60" height="9.20" fill="#ffffff"/><rect x="684" y="389.4" width="1.60" height="10.30" fill="#ffffff"/><rect x="686.4" y="389.6" width="1.00" height="10.10" fill="#ffffff"/><rect x="691.4" y="390.5" width="1.50" height="9.20" fill="#ffffff"/><rect x="707.6" y="390.5" width="1.40" height="9.20" fill="#ffffff"/><rect x="709.8" y="389.6" width="1.00" height="10.10" fill="#ffffff"/><path d="M696.8,389.6 h7.1 v10.1 h-7.1 Z M698.4,391 v8 h5.5 v-1.4 h-4 v-1.6 h4 v-1.1 h-4 v-1.5 h4 v-1.1 h-4 v-1.8 h4 v-0.5 Z" fill="#ffffff" fill-rule="evenodd"/><path d="M720,391 h1.6 v-1.8 h10.4 v10.5 h-10.4 q-1.6,0 -1.6,-1.6 Z M721.6,391 v7 h-0.1 Z M723.5,391 v2.1 h3.3 v-2.1 Z M727.8,391 v0.9 h2.4 v-0.9 Z M727.8,392.5 v0.8 h2.4 v-0.8 Z M723.5,394.8 v1 h6.6 v-1 Z M723.5,397 v0.9 h6.6 v-0.9 Z" fill="#ffffff" fill-rule="evenodd"/><text x="735.2" y="398.8" font-family="Liberation Sans" font-weight="bold" font-size="12.4" fill="#ffffff">5</text><path d="M745.3,390.1 L746.9,390.1 L746.9,398.8 L745.3,398.8 L745.3,392.4 L743.4,393.4 L743.4,391.6 Z" fill="#ffffff"/></g></svg>
</body></html>
